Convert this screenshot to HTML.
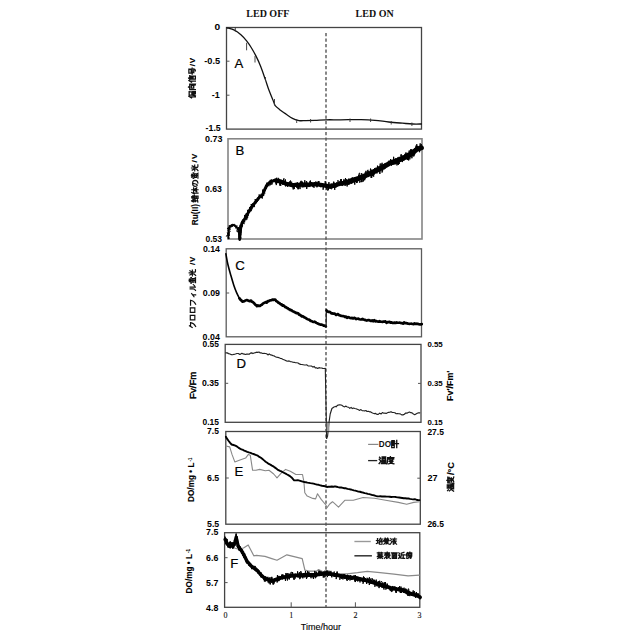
<!DOCTYPE html><html><head><meta charset="utf-8"><style>html,body{margin:0;padding:0;background:#fff;width:640px;height:640px;overflow:hidden}svg{display:block}</style></head><body><svg width="640" height="640" viewBox="0 0 640 640">
<rect width="640" height="640" fill="#fff"/>
<text x="246.3" y="16.9" font-family="Liberation Serif" font-size="10" font-weight="bold" text-anchor="start" fill="#111" >LED OFF</text>
<text x="355.6" y="16.9" font-family="Liberation Serif" font-size="10" font-weight="bold" text-anchor="start" fill="#111" >LED ON</text>
<rect x="226.5" y="27.5" width="195.00" height="101.60" fill="none" stroke="#444" stroke-width="1.3"/>
<rect x="228.0" y="138.8" width="194.00" height="100.20" fill="none" stroke="#858585" stroke-width="1.6"/>
<rect x="226.2" y="248.8" width="195.30" height="88.00" fill="none" stroke="#5c5c5c" stroke-width="1.3"/>
<rect x="225.2" y="344.4" width="195.80" height="77.90" fill="none" stroke="#444" stroke-width="1.3"/>
<rect x="225.8" y="431.5" width="194.50" height="92.70" fill="none" stroke="#444" stroke-width="1.3"/>
<rect x="224.6" y="532.7" width="195.20" height="74.60" fill="none" stroke="#444" stroke-width="1.3"/>
<text x="214.50" y="30.14" font-family="Liberation Sans" font-size="8.5" font-weight="bold" fill="#000" textLength="5.70" lengthAdjust="spacingAndGlyphs" stroke="#000" stroke-width="0.0">0</text>
<text x="204.30" y="64.04" font-family="Liberation Sans" font-size="8.5" font-weight="bold" fill="#000" textLength="15.90" lengthAdjust="spacingAndGlyphs" stroke="#000" stroke-width="0.0">-0.5</text>
<text x="211.70" y="97.94" font-family="Liberation Sans" font-size="8.5" font-weight="bold" fill="#000" textLength="8.00" lengthAdjust="spacingAndGlyphs" stroke="#000" stroke-width="0.0">-1</text>
<text x="205.60" y="131.44" font-family="Liberation Sans" font-size="8.5" font-weight="bold" fill="#000" textLength="15.10" lengthAdjust="spacingAndGlyphs" stroke="#000" stroke-width="0.0">-1.5</text>
<text x="205.10" y="141.94" font-family="Liberation Sans" font-size="8.5" font-weight="bold" fill="#000" textLength="17.40" lengthAdjust="spacingAndGlyphs" stroke="#000" stroke-width="0.0">0.73</text>
<text x="204.90" y="191.84" font-family="Liberation Sans" font-size="8.5" font-weight="bold" fill="#000" textLength="16.90" lengthAdjust="spacingAndGlyphs" stroke="#000" stroke-width="0.0">0.63</text>
<text x="205.40" y="242.04" font-family="Liberation Sans" font-size="8.5" font-weight="bold" fill="#000" textLength="16.60" lengthAdjust="spacingAndGlyphs" stroke="#000" stroke-width="0.0">0.53</text>
<text x="202.90" y="252.14" font-family="Liberation Sans" font-size="8.5" font-weight="bold" fill="#000" textLength="17.00" lengthAdjust="spacingAndGlyphs" stroke="#000" stroke-width="0.0">0.14</text>
<text x="202.80" y="295.64" font-family="Liberation Sans" font-size="8.5" font-weight="bold" fill="#000" textLength="17.20" lengthAdjust="spacingAndGlyphs" stroke="#000" stroke-width="0.0">0.09</text>
<text x="202.60" y="340.24" font-family="Liberation Sans" font-size="8.5" font-weight="bold" fill="#000" textLength="17.20" lengthAdjust="spacingAndGlyphs" stroke="#000" stroke-width="0.0">0.04</text>
<text x="202.60" y="346.94" font-family="Liberation Sans" font-size="8.5" font-weight="bold" fill="#000" textLength="16.30" lengthAdjust="spacingAndGlyphs" stroke="#000" stroke-width="0.0">0.55</text>
<text x="202.00" y="385.94" font-family="Liberation Sans" font-size="8.5" font-weight="bold" fill="#000" textLength="16.90" lengthAdjust="spacingAndGlyphs" stroke="#000" stroke-width="0.0">0.35</text>
<text x="202.50" y="425.34" font-family="Liberation Sans" font-size="8.5" font-weight="bold" fill="#000" textLength="16.40" lengthAdjust="spacingAndGlyphs" stroke="#000" stroke-width="0.0">0.15</text>
<text x="207.10" y="434.24" font-family="Liberation Sans" font-size="8.5" font-weight="bold" fill="#000" textLength="11.80" lengthAdjust="spacingAndGlyphs" stroke="#000" stroke-width="0.0">7.5</text>
<text x="207.00" y="481.04" font-family="Liberation Sans" font-size="8.5" font-weight="bold" fill="#000" textLength="12.20" lengthAdjust="spacingAndGlyphs" stroke="#000" stroke-width="0.0">6.5</text>
<text x="207.00" y="526.84" font-family="Liberation Sans" font-size="8.5" font-weight="bold" fill="#000" textLength="12.20" lengthAdjust="spacingAndGlyphs" stroke="#000" stroke-width="0.0">5.5</text>
<text x="206.10" y="534.84" font-family="Liberation Sans" font-size="8.5" font-weight="bold" fill="#000" textLength="12.20" lengthAdjust="spacingAndGlyphs" stroke="#000" stroke-width="0.0">7.5</text>
<text x="206.10" y="560.74" font-family="Liberation Sans" font-size="8.5" font-weight="bold" fill="#000" textLength="12.20" lengthAdjust="spacingAndGlyphs" stroke="#000" stroke-width="0.0">6.6</text>
<text x="206.10" y="585.64" font-family="Liberation Sans" font-size="8.5" font-weight="bold" fill="#000" textLength="12.20" lengthAdjust="spacingAndGlyphs" stroke="#000" stroke-width="0.0">5.7</text>
<text x="206.10" y="610.54" font-family="Liberation Sans" font-size="8.5" font-weight="bold" fill="#000" textLength="12.20" lengthAdjust="spacingAndGlyphs" stroke="#000" stroke-width="0.0">4.8</text>
<text x="427.40" y="346.59" font-family="Liberation Sans" font-size="7.8" font-weight="bold" fill="#000" textLength="15.30" lengthAdjust="spacingAndGlyphs" stroke="#000" stroke-width="0">0.55</text>
<text x="427.40" y="386.19" font-family="Liberation Sans" font-size="7.8" font-weight="bold" fill="#000" textLength="15.30" lengthAdjust="spacingAndGlyphs" stroke="#000" stroke-width="0">0.35</text>
<text x="427.40" y="424.99" font-family="Liberation Sans" font-size="7.8" font-weight="bold" fill="#000" textLength="15.30" lengthAdjust="spacingAndGlyphs" stroke="#000" stroke-width="0">0.15</text>
<text x="427.40" y="434.64" font-family="Liberation Sans" font-size="8.2" font-weight="bold" fill="#000" textLength="16.50" lengthAdjust="spacingAndGlyphs" stroke="#000" stroke-width="0.0">27.5</text>
<text x="427.40" y="481.04" font-family="Liberation Sans" font-size="8.2" font-weight="bold" fill="#000" textLength="10.10" lengthAdjust="spacingAndGlyphs" stroke="#000" stroke-width="0.0">27</text>
<text x="427.40" y="526.94" font-family="Liberation Sans" font-size="8.2" font-weight="bold" fill="#000" textLength="16.50" lengthAdjust="spacingAndGlyphs" stroke="#000" stroke-width="0.0">26.5</text>
<text x="225.5" y="617.5" font-family="Liberation Serif" font-size="8" font-weight="normal" text-anchor="middle" fill="#111" stroke="#111" stroke-width="0.12">0</text>
<text x="291.2" y="617.5" font-family="Liberation Serif" font-size="8" font-weight="normal" text-anchor="middle" fill="#111" stroke="#111" stroke-width="0.12">1</text>
<text x="355.4" y="617.5" font-family="Liberation Serif" font-size="8" font-weight="normal" text-anchor="middle" fill="#111" stroke="#111" stroke-width="0.12">2</text>
<text x="419.5" y="617.5" font-family="Liberation Serif" font-size="8" font-weight="normal" text-anchor="middle" fill="#111" stroke="#111" stroke-width="0.12">3</text>
<text x="320.9" y="630" font-family="Liberation Sans" font-size="9" font-weight="normal" text-anchor="middle" fill="#000" stroke="#000" stroke-width="0.12">Time/hour</text>
<line x1="226.5" y1="61.2" x2="229.5" y2="61.2" stroke="#555" stroke-width="1"/>
<line x1="226.5" y1="95.2" x2="229.5" y2="95.2" stroke="#555" stroke-width="1"/>
<line x1="226.2" y1="293" x2="229.2" y2="293" stroke="#555" stroke-width="1"/>
<line x1="225.2" y1="383.3" x2="228.2" y2="383.3" stroke="#555" stroke-width="1"/>
<line x1="225.8" y1="478" x2="228.8" y2="478" stroke="#555" stroke-width="1"/>
<line x1="224.6" y1="557.7" x2="227.6" y2="557.7" stroke="#555" stroke-width="1"/>
<line x1="224.6" y1="582.6" x2="227.6" y2="582.6" stroke="#555" stroke-width="1"/>
<line x1="421.0" y1="383.4" x2="418.0" y2="383.4" stroke="#555" stroke-width="1"/>
<line x1="420.3" y1="478.2" x2="417.3" y2="478.2" stroke="#555" stroke-width="1"/>
<line x1="291.2" y1="607.3" x2="291.2" y2="602.3" stroke="#555" stroke-width="1"/>
<line x1="355.4" y1="607.3" x2="355.4" y2="602.3" stroke="#555" stroke-width="1"/>
<text x="234.4" y="68.2" font-family="Liberation Sans" font-size="13.2" font-weight="normal" text-anchor="start" fill="#000" stroke="#000" stroke-width="0.2">A</text>
<text x="235.4" y="155.0" font-family="Liberation Sans" font-size="13.2" font-weight="normal" text-anchor="start" fill="#000" stroke="#000" stroke-width="0.2">B</text>
<text x="235.2" y="270.0" font-family="Liberation Sans" font-size="13.2" font-weight="normal" text-anchor="start" fill="#000" stroke="#000" stroke-width="0.2">C</text>
<text x="236.6" y="367.8" font-family="Liberation Sans" font-size="13.2" font-weight="normal" text-anchor="start" fill="#000" stroke="#000" stroke-width="0.2">D</text>
<text x="234.6" y="476.0" font-family="Liberation Sans" font-size="13.2" font-weight="normal" text-anchor="start" fill="#000" stroke="#000" stroke-width="0.2">E</text>
<text x="230.3" y="567.6" font-family="Liberation Sans" font-size="13.2" font-weight="normal" text-anchor="start" fill="#000" stroke="#000" stroke-width="0.2">F</text>
<line x1="326" y1="33" x2="326" y2="607" stroke="#555" stroke-width="1.4" stroke-dasharray="3.2,2.3"/>
<g transform="translate(188.40,98.70) rotate(-90)">
<path d="M3,0.8 L0.8,4.5 M2.2,3 V9.8 M4.2,1.2 H9.6 M4.6,2.4 V5 H9.2 V2.4 M4.6,5 Q4.6,8.5 3.8,9.8 M5.2,6.2 H9.5 V9.8 M6.6,6.2 V9.8 M8,6.2 V9.8 M5.2,8 H9.5" transform="translate(0.20,-0.10) scale(0.7200)" fill="none" stroke="#111" stroke-width="1.8" stroke-opacity="1.0" stroke-linecap="square"/>
<path d="M5,0.3 L4.2,1.8 M1.3,2 V9.8 M1.3,2 H8.8 V9.8 L7.8,9.5 M3.4,4.2 H6.8 V7.5 H3.4 Z" transform="translate(8.10,-0.10) scale(0.7200)" fill="none" stroke="#111" stroke-width="1.8" stroke-opacity="1.0" stroke-linecap="square"/>
<path d="M3,0.8 L0.8,4.5 M2.2,3 V9.8 M6.5,0.5 L7,1.5 M4.3,2 H9.7 M5,3.6 H9 M5,5.1 H9 M5,6.6 V9.8 H9 V6.6 Z" transform="translate(16.00,-0.10) scale(0.7200)" fill="none" stroke="#111" stroke-width="1.8" stroke-opacity="1.0" stroke-linecap="square"/>
<path d="M2.3,0.8 H7.7 V4 H2.3 Z M0.8,5.4 H9.2 M3.6,5.4 L3,7.6 H8.2 Q8.2,9.8 5.5,9.8" transform="translate(23.90,-0.10) scale(0.7200)" fill="none" stroke="#111" stroke-width="1.8" stroke-opacity="1.0" stroke-linecap="square"/>
<text x="32.50" y="6.60" font-family="Liberation Sans" font-size="8" font-weight="bold" fill="#000" stroke="#000" stroke-width="0.1" textLength="8.40" lengthAdjust="spacing">/V</text>
</g>
<g transform="translate(191.20,225.30) rotate(-90)">
<text x="0.00" y="6.90" font-family="Liberation Sans" font-size="8.6" font-weight="bold" fill="#000" stroke="#000" stroke-width="0.1" textLength="21.30" lengthAdjust="spacingAndGlyphs">Ru(II)</text>
<path d="M2,0.5 L0.4,3 M2,0.5 L3.8,3 M0.8,4 H3.4 M2.1,3 V9.2 M0.8,6 H3.4 M0.4,9.5 L3.8,8.8 M4.8,2.5 H9.6 M6.2,0.8 V4.5 M8.2,0.8 V4.5 M4.6,4.5 H9.8 M5.4,5.8 H9 V9.8 H5.4 Z M5.4,7.8 H9" transform="translate(23.00,0.00) scale(0.7000)" fill="none" stroke="#111" stroke-width="1.7" stroke-opacity="1.0" stroke-linecap="square"/>
<path d="M3,0.8 L0.8,4.5 M2.2,3 V9.8 M4,3.4 H9.8 M6.9,0.8 V9.8 M6.9,3.6 L4,8 M6.9,3.6 L9.8,8 M5.3,7.6 H8.5" transform="translate(30.70,0.00) scale(0.7000)" fill="none" stroke="#111" stroke-width="1.7" stroke-opacity="1.0" stroke-linecap="square"/>
<path d="M5,2.2 Q4.2,8.6 2.4,8.6 Q0.8,8.6 0.8,5.6 Q1,2 5,2 Q9.2,2 9.2,5.6 Q9,9 5.6,9.6" transform="translate(38.40,0.00) scale(0.7000)" fill="none" stroke="#111" stroke-width="1.7" stroke-opacity="1.0" stroke-linecap="square"/>
<path d="M3,0.6 L4,2.2 M5,0.3 V2 M7,0.6 L6,2.2 M1,3.6 V2.8 H9 V3.6 M2.5,4.8 H7.5 V7.4 H2.5 Z M5,4 V9.6 M1.5,9.6 H8.6 L8,8.6" transform="translate(46.10,0.00) scale(0.7000)" fill="none" stroke="#111" stroke-width="1.7" stroke-opacity="1.0" stroke-linecap="square"/>
<path d="M5,0.4 V5 M2,1.4 L3,3.4 M8,1.4 L7,3.4 M0.8,5 H9.2 M4,5 Q4,8.5 1.2,9.8 M6,5 V9 Q6,9.8 9.6,9.5" transform="translate(53.80,0.00) scale(0.7000)" fill="none" stroke="#111" stroke-width="1.7" stroke-opacity="1.0" stroke-linecap="square"/>
<text x="62.90" y="6.05" font-family="Liberation Sans" font-size="8" font-weight="bold" fill="#000" stroke="#000" stroke-width="0.1" textLength="8.65" lengthAdjust="spacing">/V</text>
</g>
<g transform="translate(188.90,328.50) rotate(-90)">
<path d="M4,0.8 L1.4,4.8 M3.4,2.4 H8.6 Q8,7.2 2.8,9.8" transform="translate(0.00,0.00) scale(0.6900)" fill="none" stroke="#111" stroke-width="1.7" stroke-opacity="1.0" stroke-linecap="square"/>
<path d="M1.8,2 H8.2 V8.6 H1.8 Z" transform="translate(7.45,0.00) scale(0.6900)" fill="none" stroke="#111" stroke-width="1.7" stroke-opacity="1.0" stroke-linecap="square"/>
<path d="M1.8,2 H8.2 V8.6 H1.8 Z" transform="translate(14.90,0.00) scale(0.6900)" fill="none" stroke="#111" stroke-width="1.7" stroke-opacity="1.0" stroke-linecap="square"/>
<path d="M1.4,2.4 H8.6 Q8,7.2 2.8,9.8" transform="translate(22.35,0.00) scale(0.6900)" fill="none" stroke="#111" stroke-width="1.7" stroke-opacity="1.0" stroke-linecap="square"/>
<path d="M7.4,4 L2.8,7.4 M5.6,5.6 V9.8" transform="translate(29.80,0.00) scale(0.6900)" fill="none" stroke="#111" stroke-width="1.7" stroke-opacity="1.0" stroke-linecap="square"/>
<path d="M3.4,1.8 V6 Q3.4,8.6 1.2,9.6 M6,1.8 V9.2 Q8,8.6 9.6,6.4" transform="translate(37.25,0.00) scale(0.6900)" fill="none" stroke="#111" stroke-width="1.7" stroke-opacity="1.0" stroke-linecap="square"/>
<path d="M3,0.6 L4,2.2 M5,0.3 V2 M7,0.6 L6,2.2 M1,3.6 V2.8 H9 V3.6 M2.5,4.8 H7.5 V7.4 H2.5 Z M5,4 V9.6 M1.5,9.6 H8.6 L8,8.6" transform="translate(44.70,0.00) scale(0.6900)" fill="none" stroke="#111" stroke-width="1.7" stroke-opacity="1.0" stroke-linecap="square"/>
<path d="M5,0.4 V5 M2,1.4 L3,3.4 M8,1.4 L7,3.4 M0.8,5 H9.2 M4,5 Q4,8.5 1.2,9.8 M6,5 V9 Q6,9.8 9.6,9.5" transform="translate(52.15,0.00) scale(0.6900)" fill="none" stroke="#111" stroke-width="1.7" stroke-opacity="1.0" stroke-linecap="square"/>
<text x="63.60" y="6.10" font-family="Liberation Sans" font-size="8" font-weight="bold" fill="#000" stroke="#000" stroke-width="0.1" textLength="8.20" lengthAdjust="spacing">/V</text>
</g>
<g transform="translate(188.60,399.00) rotate(-90)">
<text x="0.00" y="7.40" font-family="Liberation Sans" font-size="9.8" font-weight="normal" fill="#000" stroke="#000" stroke-width="0.45" textLength="27.30" lengthAdjust="spacingAndGlyphs">Fv/Fm</text>
</g>
<g transform="translate(187.70,502.00) rotate(-90)">
<text x="0.00" y="6.60" font-family="Liberation Sans" font-size="8.6" font-weight="bold" fill="#000" stroke="#000" stroke-width="0.1" textLength="39.50" lengthAdjust="spacingAndGlyphs">DO/mg • L</text>
<text x="40.50" y="3.90" font-family="Liberation Sans" font-size="5.2" font-weight="bold" fill="#000" stroke="#000" stroke-width="0.1" textLength="3.80" lengthAdjust="spacingAndGlyphs">-1</text>
</g>
<g transform="translate(186.10,593.40) rotate(-90)">
<text x="0.00" y="6.10" font-family="Liberation Sans" font-size="8.4" font-weight="bold" fill="#000" stroke="#000" stroke-width="0.1" textLength="39.40" lengthAdjust="spacingAndGlyphs">DO/mg • L</text>
<text x="40.40" y="3.60" font-family="Liberation Sans" font-size="5.2" font-weight="bold" fill="#000" stroke="#000" stroke-width="0.1" textLength="4.10" lengthAdjust="spacingAndGlyphs">-1</text>
</g>
<g transform="translate(446.25,401.00) rotate(-90)">
<text x="0.00" y="6.65" font-family="Liberation Sans" font-size="9.2" font-weight="bold" fill="#000" stroke="#000" stroke-width="0.1" textLength="30.50" lengthAdjust="spacingAndGlyphs">Fv'/Fm'</text>
</g>
<g transform="translate(446.60,491.40) rotate(-90)">
<path d="M1,1.2 L2.2,2.4 M0.6,3.8 L1.8,5 M0.4,9.6 L2.6,6.4 M4.4,0.8 H9 V4.6 H4.4 Z M4.4,2.7 H9 M4,6 H9.4 V9.4 M4,6 V9.4 M5.8,6 V9.4 M7.6,6 V9.4 M3.4,9.6 H9.8" transform="translate(0.00,0.10) scale(0.7200)" fill="none" stroke="#111" stroke-width="1.75" stroke-opacity="1.0" stroke-linecap="square"/>
<path d="M5,0.2 V1.4 M1.4,1.5 H9.6 M1.4,1.5 Q1.4,8 0.4,9.8 M2.8,3.4 H9.2 M4.4,2.2 V5.6 M7.6,2.2 V5.6 M4.4,5.6 H7.6 M3.4,6.6 H8.2 Q6.2,9.4 2.8,9.8 M4.4,7.2 Q7,9.4 9.6,9.8" transform="translate(7.45,0.10) scale(0.7200)" fill="none" stroke="#111" stroke-width="1.75" stroke-opacity="1.0" stroke-linecap="square"/>
<text x="16.40" y="6.90" font-family="Liberation Sans" font-size="8.6" font-weight="bold" fill="#000" stroke="#000" stroke-width="0.1" textLength="13.00" lengthAdjust="spacingAndGlyphs">/°C</text>
</g>
<path d="M1.4,0.8 H4.4 M0.4,2.4 H5 M1.2,3.9 H4.4 M1.2,5.4 H4.4 M1.2,6.9 V9.8 H4.4 V6.9 Z M5.4,4.6 H9.8 M7.6,0.4 V9.8" transform="translate(390.80,440.00) scale(0.7800)" fill="none" stroke="#111" stroke-width="1.7" stroke-opacity="1.0" stroke-linecap="square"/>
<path d="M1,1.2 L2.2,2.4 M0.6,3.8 L1.8,5 M0.4,9.6 L2.6,6.4 M4.4,0.8 H9 V4.6 H4.4 Z M4.4,2.7 H9 M4,6 H9.4 V9.4 M4,6 V9.4 M5.8,6 V9.4 M7.6,6 V9.4 M3.4,9.6 H9.8" transform="translate(378.80,456.40) scale(0.7600)" fill="none" stroke="#111" stroke-width="1.75" stroke-opacity="1.0" stroke-linecap="square"/>
<path d="M5,0.2 V1.4 M1.4,1.5 H9.6 M1.4,1.5 Q1.4,8 0.4,9.8 M2.8,3.4 H9.2 M4.4,2.2 V5.6 M7.6,2.2 V5.6 M4.4,5.6 H7.6 M3.4,6.6 H8.2 Q6.2,9.4 2.8,9.8 M4.4,7.2 Q7,9.4 9.6,9.8" transform="translate(386.60,456.40) scale(0.7600)" fill="none" stroke="#111" stroke-width="1.75" stroke-opacity="1.0" stroke-linecap="square"/>
<path d="M2,1.2 V8 M0.4,4 H3.6 M0.4,8.8 L4,7.6 M6.8,0.3 V1.5 M4.4,1.8 H9.6 M5.4,2.8 L6,4.4 M8.6,2.8 L8,4.4 M4.2,5 H9.8 M5,6.4 H9 V9.8 H5 Z" transform="translate(376.10,537.80) scale(0.6600)" fill="none" stroke="#111" stroke-width="1.7" stroke-opacity="1.0" stroke-linecap="square"/>
<path d="M3,0.3 L4,1.4 M7,0.3 L6,1.4 M1.4,1.8 H8.6 M2,3 H8 M0.8,4.2 H9.2 M5,1.8 V4.2 M3,4.2 L1,5.6 M3,5.6 H7.4 V7.6 H3 Z M3,6.6 H7.4 M3,7.6 L1,9.8 M6,8.4 L9.6,9.8 M5,7.6 L4.5,9.5" transform="translate(383.10,537.80) scale(0.6600)" fill="none" stroke="#111" stroke-width="1.7" stroke-opacity="1.0" stroke-linecap="square"/>
<path d="M1,1.2 L2.2,2.4 M0.6,3.8 L1.8,5 M0.4,9.6 L2.6,6.4 M7,0.3 V1.5 M3.8,1.8 H9.8 M5.6,1.8 L3.8,6 M4.8,4 V9.8 M7.2,3 L6.2,5 H9.2 Q8.2,8.6 5.6,9.8 M6.6,6.6 L9.8,9.8" transform="translate(390.10,537.80) scale(0.6600)" fill="none" stroke="#111" stroke-width="1.7" stroke-opacity="1.0" stroke-linecap="square"/>
<path d="M0.8,1.5 H9.2 M3.2,0.4 V3 M6.8,0.4 V3 M2,3.6 V6 H8 V3.6 M4,3.6 V6 M6,3.6 V6 M0.8,6.9 H9.2 M5,6 V9.8 M5,7.2 L1.4,9.8 M5,7.2 L8.6,9.8" transform="translate(376.80,552.00) scale(0.6600)" fill="none" stroke="#111" stroke-width="1.9" stroke-opacity="1.0" stroke-linecap="square"/>
<path d="M1.4,1.4 H8.6 M5,0.2 V5.6 M2,3 H8 M0.8,4.6 H9.2 M4,5.6 Q3,8 0.8,9.6 M4,6.6 V9.6 L6,9 M5.6,5.6 Q7,8.6 9.6,9.8 M8.6,6 L6.6,7.6" transform="translate(383.94,552.00) scale(0.6600)" fill="none" stroke="#111" stroke-width="1.9" stroke-opacity="1.0" stroke-linecap="square"/>
<path d="M0.8,1.2 H9.2 M4.6,1.2 L4,3 M1.8,3 H8.2 V9.8 H1.8 Z M3.8,3 V9.8 M6.2,3 V9.8 M3.8,5.2 H6.2 M3.8,7.4 H6.2" transform="translate(391.08,552.00) scale(0.6600)" fill="none" stroke="#111" stroke-width="1.9" stroke-opacity="1.0" stroke-linecap="square"/>
<path d="M1,1.4 L2,2.6 M0.4,4.6 H2 V8 L0.4,9.6 M1.6,8.6 Q4,9.8 9.8,9.6 M8.6,0.6 L4.6,1.8 V4.6 Q4.6,6.6 3.6,7.6 M4.6,4.2 H9.6 M7.6,4.2 V8.4" transform="translate(398.22,552.00) scale(0.6600)" fill="none" stroke="#111" stroke-width="1.9" stroke-opacity="1.0" stroke-linecap="square"/>
<path d="M3,0.8 L0.8,4.5 M2.2,3 V9.8 M6.8,0.2 V1.3 M4,1.5 H9.6 M5,1.5 L5.5,3 M8.6,1.5 L8,3 M4,3.3 H9.8 M5,4.5 V5.5 H9 V4.5 M4,6 H9.8 M6.8,6 L6,7.6 H9 Q9,9.8 7.5,9.8 M5.5,7.6 L4,9.8" transform="translate(405.36,552.00) scale(0.6600)" fill="none" stroke="#111" stroke-width="1.9" stroke-opacity="1.0" stroke-linecap="square"/>
<path d="M226.90,27.80 C228.15,28.20 232.07,29.03 234.40,30.20 C236.73,31.37 238.87,33.02 240.90,34.80 C242.93,36.58 244.88,38.78 246.60,40.90 C248.32,43.02 249.65,45.00 251.20,47.50 C252.75,50.00 254.33,52.78 255.90,55.90 C257.47,59.02 259.03,62.28 260.60,66.20 C262.17,70.12 263.88,75.33 265.30,79.40 C266.72,83.47 267.70,86.85 269.10,90.60 C270.50,94.35 272.68,99.40 273.70,101.90 C274.72,104.40 274.25,104.35 275.20,105.60 C276.15,106.85 277.62,108.00 279.40,109.40 C281.18,110.80 283.72,112.52 285.90,114.00 C288.08,115.48 290.32,117.20 292.50,118.30 C294.68,119.40 296.82,120.22 299.00,120.60 C301.18,120.98 302.93,120.63 305.60,120.60 C308.27,120.57 311.60,120.53 315.00,120.40 C318.40,120.27 321.73,119.90 326.00,119.80 C330.27,119.70 334.73,119.83 340.60,119.80 C346.47,119.77 355.47,119.52 361.20,119.60 C366.93,119.68 370.40,119.90 375.00,120.30 C379.60,120.70 384.22,121.52 388.80,122.00 C393.38,122.48 398.50,122.87 402.50,123.20 C406.50,123.53 409.65,123.87 412.80,124.00 C415.95,124.13 419.97,124.00 421.40,124.00" fill="none" stroke="#111" stroke-width="1.3" stroke-linejoin="round" stroke-linecap="round" />
<line x1="235.3" y1="27.3" x2="235.3" y2="31.6" stroke="#333" stroke-width="0.9"/>
<line x1="246.6" y1="42.8" x2="246.6" y2="50.3" stroke="#333" stroke-width="0.9"/>
<line x1="255" y1="56" x2="255" y2="62.5" stroke="#333" stroke-width="0.9"/>
<line x1="265.5" y1="77" x2="265.5" y2="81" stroke="#333" stroke-width="0.9"/>
<line x1="274.5" y1="99" x2="274.5" y2="105" stroke="#333" stroke-width="0.9"/>
<line x1="296.7" y1="119" x2="296.7" y2="123" stroke="#333" stroke-width="0.9"/>
<line x1="310.6" y1="119" x2="310.6" y2="122.5" stroke="#333" stroke-width="0.9"/>
<line x1="350" y1="118.5" x2="350" y2="122" stroke="#333" stroke-width="0.9"/>
<line x1="370.6" y1="118.5" x2="370.6" y2="122" stroke="#333" stroke-width="0.9"/>
<line x1="391.2" y1="121" x2="391.2" y2="124.5" stroke="#333" stroke-width="0.9"/>
<line x1="411.9" y1="122.5" x2="411.9" y2="126" stroke="#333" stroke-width="0.9"/>
<polyline points="228.40,238.50 228.42,238.00 228.44,237.50 228.46,237.00 228.48,236.50 228.50,236.00 228.52,235.50 228.54,235.00 228.56,234.50 228.58,234.00 228.60,233.50 228.62,233.00 228.64,232.50 228.66,232.00 228.68,231.50 228.70,231.00 228.80,230.50 228.90,230.00 229.00,229.50 229.10,229.00 229.20,228.50 229.30,228.00 229.40,227.50 229.50,227.00 229.90,226.64 230.30,226.28 230.70,225.92 231.10,225.56 231.50,225.20 232.03,225.15 232.55,225.10 233.07,225.05 233.60,225.00 234.08,225.26 234.56,225.52 235.04,225.78 235.52,226.04 236.00,226.30 236.32,226.75 236.63,227.20 236.95,227.65 237.27,228.10 237.58,228.55 237.90,229.00 238.03,229.50 238.16,230.00 238.29,230.50 238.42,231.00 238.55,231.50 238.68,232.00 238.81,232.50 238.94,233.00 239.07,233.50 239.20,234.00 239.26,234.53 239.31,235.07 239.37,235.60 239.42,236.13 239.48,236.67 239.53,237.20 239.59,237.73 239.64,238.27 239.70,238.80" fill="none" stroke="#000" stroke-width="1.6" stroke-linejoin="round" stroke-linecap="round" />
<polyline points="228.86,238.24 228.14,237.77 228.25,236.57 228.84,238.11 228.70,237.54 228.67,236.39 229.29,233.83 228.99,235.51 226.99,232.81 228.16,233.11 228.56,233.81 228.04,233.52 228.99,232.81 230.21,231.34 229.76,232.06 228.03,230.38 228.70,230.16 229.12,230.63 228.14,229.05 230.20,228.48 229.42,227.69 227.96,228.43 230.58,227.55 229.21,225.00 229.16,226.53 230.24,226.78 231.45,224.46 231.95,226.23 231.83,226.64 230.86,225.27 232.00,225.72 231.94,224.60 233.12,224.03 232.25,226.55 234.78,224.06 235.56,227.22 233.25,224.14 235.34,226.66 237.20,225.63 236.77,228.30 237.34,227.90 237.82,229.69 238.08,229.07 239.05,227.43 238.51,230.46 237.59,228.03 236.66,231.34 239.34,230.82 240.00,230.19 238.54,232.55 239.39,232.82 239.97,233.12 238.70,232.84 239.22,235.04 240.11,233.65 238.91,236.53 239.25,234.22 239.15,235.98 238.55,238.07 238.39,238.46 240.16,236.95 240.42,239.40 239.83,239.15" fill="none" stroke="#000" stroke-width="0.8" stroke-linejoin="round" stroke-linecap="round" />
<polyline points="228.92,238.65 228.67,237.82 228.44,238.07 228.97,237.76 228.77,238.50 228.16,235.57 229.35,235.49 228.89,234.66 226.25,236.34 228.80,232.88 228.81,233.90 229.21,232.57 228.17,232.78 228.98,234.00 228.59,230.95 228.64,230.77 228.36,228.50 227.85,231.01 229.86,229.43 230.44,229.86 228.88,226.80 229.86,227.66 226.99,228.59 228.20,228.09 228.56,227.32 231.38,226.46 230.87,225.77 231.23,226.36 232.88,225.11 231.76,226.20 231.52,227.10 232.84,225.96 234.23,225.13 234.65,225.48 233.20,223.99 234.17,226.39 234.20,225.01 236.67,227.57 235.47,228.22 235.61,227.20 238.38,228.42 238.67,227.21 237.42,229.54 239.17,227.03 237.49,229.40 238.53,230.40 237.37,232.00 239.76,232.14 238.39,232.95 239.60,231.26 238.92,232.62 238.70,234.42 238.72,231.50 239.94,232.15 238.71,234.85 240.06,235.06 240.56,235.68 240.36,236.07 240.93,238.16 240.33,236.53 238.61,235.86 240.61,236.30 239.69,237.57" fill="none" stroke="#000" stroke-width="0.8" stroke-linejoin="round" stroke-linecap="round" />
<polyline points="239.70,238.80 239.74,238.28 239.78,237.77 239.83,237.25 239.87,236.74 239.91,236.22 239.95,235.71 239.99,235.19 240.04,234.67 240.08,234.16 240.12,233.64 240.16,233.13 240.21,232.61 240.25,232.09 240.29,231.58 240.33,231.06 240.37,230.55 240.42,230.03 240.46,229.52 240.50,229.00 240.62,228.51 240.73,228.02 240.85,227.53 240.97,227.03 241.08,226.54 241.20,226.05 241.32,225.56 241.43,225.07 241.55,224.57 241.67,224.08 241.78,223.59 241.90,223.10 242.18,222.67 242.47,222.24 242.75,221.81 243.04,221.38 243.32,220.95 243.61,220.52 243.89,220.08 244.18,219.65 244.46,219.22 244.75,218.79 245.03,218.36 245.32,217.93 245.60,217.50 245.85,217.05 246.09,216.61 246.34,216.16 246.59,215.71 246.84,215.26 247.08,214.82 247.33,214.37 247.58,213.92 247.83,213.47 248.07,213.03 248.32,212.58 248.57,212.13 248.82,211.68 249.06,211.24 249.31,210.79 249.56,210.34 249.81,209.89 250.05,209.45 250.30,209.00 250.59,208.59 250.89,208.19 251.18,207.78 251.48,207.38 251.77,206.97 252.06,206.56 252.36,206.16 252.65,205.75 252.94,205.34 253.24,204.94 253.53,204.53 253.82,204.12 254.12,203.72 254.41,203.31 254.71,202.91 255.00,202.50 255.34,202.10 255.67,201.70 256.01,201.30 256.34,200.90 256.68,200.50 257.01,200.10 257.35,199.70 257.69,199.30 258.02,198.90 258.36,198.50 258.69,198.10 259.03,197.70 259.36,197.30 259.70,196.90 260.17,196.58 260.63,196.27 261.10,195.95 261.57,195.63 262.03,195.32 262.50,195.00 262.69,194.53 262.88,194.06 263.07,193.59 263.26,193.12 263.45,192.65 263.64,192.18 263.83,191.71 264.02,191.24 264.21,190.77 264.40,190.30 264.63,189.83 264.87,189.37 265.10,188.90 265.33,188.43 265.57,187.97 265.80,187.50 266.03,187.03 266.27,186.57 266.50,186.10 266.73,185.63 266.97,185.17 267.20,184.70 267.61,184.33 268.02,183.97 268.43,183.60 268.84,183.23 269.26,182.87 269.67,182.50 270.08,182.13 270.49,181.77 270.90,181.40 271.42,181.30 271.94,181.20 272.47,181.10 272.99,181.00 273.51,180.90 274.03,180.80 274.56,180.70 275.08,180.60 275.60,180.50" fill="none" stroke="#000" stroke-width="2.9" stroke-linejoin="round" stroke-linecap="round" />
<polyline points="239.69,238.45 239.86,237.22 239.81,240.99 240.33,238.21 239.24,236.38 240.45,235.22 239.65,232.74 240.39,237.00 240.44,234.69 239.49,234.46 239.80,230.83 239.88,234.79 239.82,230.99 240.19,229.34 240.47,229.46 240.50,227.46 239.40,229.39 240.28,231.34 240.02,225.92 240.27,229.52 240.99,229.91 240.90,229.22 241.18,229.93 239.92,227.85 241.74,228.16 240.97,225.52 240.44,229.05 242.65,225.91 241.89,222.91 241.61,227.48 242.23,224.60 241.86,221.47 242.60,223.20 242.37,222.18 242.57,219.98 243.09,222.98 242.90,219.41 244.18,224.12 242.60,221.23 244.42,220.77 244.68,222.25 245.01,218.67 245.55,214.86 244.96,218.52 246.50,219.89 245.51,214.53 246.19,217.13 245.85,215.44 247.11,219.31 246.16,213.11 247.58,217.88 247.74,217.65 247.71,212.35 247.45,209.87 248.34,212.92 248.26,211.27 248.76,212.96 248.92,212.83 249.46,210.65 248.90,210.88 249.56,209.22 249.88,209.70 250.14,209.45 249.67,208.76 251.12,209.35 250.79,208.97 250.70,208.58 251.50,203.96 252.14,205.29 250.75,204.61 253.15,204.29 251.97,205.06 253.20,203.97 253.33,205.83 253.88,207.20 254.12,204.09 254.60,206.70 253.87,205.16 255.07,202.64 255.53,201.97 255.79,203.17 256.94,201.32 255.90,203.53 257.64,201.06 257.12,199.88 257.02,201.86 257.44,197.60 258.25,199.95 258.03,200.31 258.63,200.04 258.72,198.47 259.37,197.26 259.05,195.40 258.97,196.91 259.16,195.80 260.92,195.04 261.07,196.97 260.86,195.22 262.29,198.61 262.06,196.97 261.78,194.20 263.35,195.46 263.04,190.17 262.38,194.25 262.92,189.36 262.94,191.05 263.95,191.77 264.37,192.38 264.79,193.47 264.15,187.94 264.10,187.93 264.87,189.22 264.31,189.78 265.32,186.21 265.41,187.61 265.42,187.39 266.21,188.30 265.93,186.41 265.14,185.79 266.75,183.87 267.07,182.46 266.51,184.97 267.45,183.88 268.33,184.79 268.01,183.53 268.81,182.97 269.40,184.19 268.99,181.20 269.71,181.46 270.43,179.77 270.95,180.52 271.22,182.24 271.78,184.80 272.53,183.08 271.80,183.01 273.63,179.55 275.20,181.88 275.20,181.28 275.55,181.98 275.52,181.42" fill="none" stroke="#000" stroke-width="0.9" stroke-linejoin="round" stroke-linecap="round" />
<polyline points="239.16,239.72 239.23,240.41 240.84,238.22 239.84,236.85 239.88,238.83 240.04,234.77 240.31,236.75 240.87,233.80 240.05,237.67 239.86,234.64 239.77,236.19 239.92,234.34 240.56,231.36 240.24,234.50 240.70,230.36 240.49,230.97 240.94,233.29 241.56,229.10 240.85,229.52 240.48,227.83 241.51,225.36 240.13,230.48 240.04,224.82 240.74,229.15 240.93,226.43 240.66,225.83 240.60,225.60 241.59,224.94 241.43,225.42 241.75,222.46 242.57,222.72 241.84,224.48 241.83,221.82 242.29,220.55 243.01,222.34 244.09,222.40 243.33,219.68 242.67,224.12 243.98,219.15 244.38,219.93 244.64,218.79 245.13,218.89 244.59,214.95 244.80,217.93 245.91,215.62 246.16,215.88 246.25,217.95 246.29,217.07 246.57,213.17 246.57,216.08 247.46,214.64 247.65,212.79 247.30,217.27 247.75,213.74 248.23,215.80 247.98,214.19 248.56,212.10 249.54,208.49 248.19,212.86 249.24,212.13 249.74,211.15 249.70,207.20 249.77,212.13 249.62,207.16 250.76,206.40 251.10,211.23 252.30,208.22 251.14,206.44 252.04,207.92 251.48,204.74 252.48,206.68 252.55,203.40 253.17,204.37 253.19,204.73 254.06,203.89 253.64,206.63 253.74,205.24 254.79,203.44 254.51,205.63 255.10,202.37 255.34,199.40 255.86,200.48 255.02,199.27 256.47,200.97 257.12,199.51 256.71,199.61 256.57,200.56 257.68,198.08 257.94,200.43 258.03,199.06 259.52,198.64 260.21,196.46 259.37,196.14 260.21,197.21 259.12,194.36 261.03,197.36 262.42,197.07 261.69,196.00 262.22,196.99 261.88,197.99 260.97,193.85 262.69,195.52 264.15,195.25 263.13,193.11 263.03,191.75 263.96,191.05 263.86,191.78 264.48,190.93 264.14,191.66 264.32,191.50 265.36,187.76 264.39,190.20 265.27,190.84 266.14,185.62 266.01,188.57 265.73,187.86 266.52,184.25 266.12,186.62 266.54,186.73 266.55,186.85 265.90,185.10 267.54,183.94 267.43,186.74 268.81,183.75 268.80,183.01 268.86,186.25 268.90,185.08 269.63,182.87 270.64,182.34 270.16,185.37 271.15,180.36 271.67,179.40 271.81,182.23 271.69,182.06 272.22,182.37 273.23,179.65 274.46,180.08 274.36,180.85 275.87,181.58 275.78,180.51" fill="none" stroke="#000" stroke-width="0.9" stroke-linejoin="round" stroke-linecap="round" />
<polyline points="275.60,180.50 276.12,180.60 276.64,180.70 277.17,180.80 277.69,180.90 278.21,181.00 278.73,181.10 279.26,181.20 279.78,181.30 280.30,181.40 280.77,181.59 281.23,181.78 281.70,181.97 282.17,182.17 282.63,182.36 283.10,182.55 283.57,182.74 284.03,182.93 284.50,183.12 284.97,183.32 285.43,183.51 285.90,183.70 286.41,183.82 286.92,183.93 287.42,184.05 287.93,184.16 288.44,184.28 288.95,184.39 289.45,184.51 289.96,184.62 290.47,184.74 290.98,184.85 291.48,184.97 291.99,185.08 292.50,185.20 293.00,185.17 293.50,185.13 294.00,185.10 294.50,185.07 295.00,185.03 295.50,185.00 296.00,184.97 296.50,184.93 297.00,184.90 297.50,184.87 298.00,184.83 298.50,184.80 299.00,184.77 299.50,184.73 300.00,184.70 300.54,184.69 301.07,184.68 301.61,184.67 302.15,184.66 302.68,184.65 303.22,184.65 303.75,184.64 304.29,184.63 304.83,184.62 305.36,184.61 305.90,184.60 306.40,184.59 306.90,184.57 307.40,184.56 307.90,184.55 308.40,184.53 308.90,184.52 309.40,184.50 309.90,184.49 310.40,184.48 310.90,184.46 311.40,184.45 311.90,184.44 312.40,184.42 312.90,184.41 313.40,184.40 313.90,184.38 314.40,184.37 314.90,184.35 315.40,184.34 315.90,184.33 316.40,184.31 316.90,184.30 317.42,184.38 317.93,184.46 318.45,184.53 318.97,184.61 319.48,184.69 320.00,184.77 320.52,184.84 321.03,184.92 321.55,185.00 322.07,185.08 322.58,185.16 323.10,185.23 323.62,185.31 324.13,185.39 324.65,185.47 325.17,185.54 325.68,185.62 326.20,185.70 326.74,185.86 327.29,186.01 327.83,186.17 328.37,186.33 328.91,186.49 329.46,186.64 330.00,186.80 330.49,186.65 330.98,186.50 331.47,186.35 331.96,186.20 332.44,186.05 332.93,185.90 333.42,185.75 333.91,185.60 334.40,185.45 334.89,185.30 335.38,185.15 335.87,185.00 336.36,184.85 336.84,184.70 337.33,184.55 337.82,184.40 338.31,184.25 338.80,184.10 339.30,183.97 339.79,183.85 340.29,183.72 340.78,183.59 341.28,183.46 341.77,183.34 342.27,183.21 342.76,183.08 343.26,182.95 343.75,182.83 344.25,182.70 344.75,182.57 345.24,182.45 345.74,182.32 346.23,182.19 346.73,182.06 347.22,181.94 347.72,181.81 348.21,181.68 348.71,181.55 349.20,181.43 349.70,181.30" fill="none" stroke="#000" stroke-width="4.2" stroke-linejoin="round" stroke-linecap="round" />
<polyline points="275.65,183.23 276.62,177.78 276.25,185.10 277.25,180.71 277.82,183.02 278.00,180.40 278.94,181.33 279.05,178.80 279.39,181.25 280.21,180.83 280.63,182.58 281.15,179.84 281.57,181.87 282.32,182.19 282.97,184.97 283.02,180.83 283.95,178.34 284.03,181.34 284.23,184.27 284.96,184.34 285.49,179.49 285.53,186.33 286.45,185.59 287.00,184.98 287.38,186.91 287.85,186.08 288.28,185.88 289.29,184.15 289.42,185.49 289.80,182.10 290.66,185.16 291.08,185.79 291.76,184.88 291.88,184.22 292.51,187.15 292.88,184.55 293.62,184.57 293.76,185.88 294.54,186.00 295.15,182.83 295.43,184.38 296.26,186.72 296.59,183.42 297.46,182.97 297.74,183.78 298.16,183.41 297.99,189.20 299.10,183.81 299.37,184.53 300.02,189.10 300.71,181.07 301.30,180.89 301.64,183.40 302.17,187.44 302.34,181.59 303.37,187.25 303.93,182.84 304.42,185.72 304.77,180.22 305.51,186.59 305.41,186.54 306.50,184.96 306.71,188.97 307.41,183.83 307.81,186.49 308.24,187.06 308.79,185.11 309.26,184.85 310.12,180.98 310.29,185.14 311.10,184.91 311.38,182.30 312.01,185.62 311.98,183.69 312.97,187.14 313.34,184.42 313.81,184.96 314.25,182.11 314.78,183.04 315.53,181.79 316.03,181.45 316.47,182.08 316.94,187.32 317.43,182.77 317.59,184.78 318.48,183.20 318.98,183.58 319.64,186.30 320.12,186.76 320.51,184.21 320.97,184.33 321.21,184.60 322.06,184.34 322.58,183.01 323.07,186.37 323.10,189.71 323.77,184.93 325.18,187.62 325.19,181.14 325.62,186.76 325.75,186.91 326.82,187.73 327.17,186.06 327.73,187.58 328.27,186.82 328.91,182.09 329.61,187.09 329.99,184.87 330.52,188.01 331.38,189.23 331.08,184.35 332.26,188.08 332.61,188.08 332.79,184.54 333.24,187.70 333.71,181.61 334.78,189.85 334.74,183.79 335.23,185.66 335.85,187.88 336.62,182.46 336.89,183.42 337.27,184.52 337.68,185.11 337.87,180.19 338.65,181.31 339.31,183.92 339.81,185.07 340.14,181.97 340.75,179.19 341.38,184.53 341.74,183.07 342.27,185.27 342.88,184.71 343.52,183.42 343.68,181.57 344.09,180.92 345.10,186.00 345.35,182.50 345.90,184.90 345.98,184.84 346.82,180.66 347.24,185.09 347.65,179.92 348.04,180.23 348.58,184.86 349.64,181.47 349.77,183.91" fill="none" stroke="#000" stroke-width="1.0" stroke-linejoin="round" stroke-linecap="round" />
<polyline points="275.68,179.15 276.25,184.17 276.66,183.48 277.13,181.94 277.95,181.84 278.20,177.85 278.62,181.63 279.41,180.52 279.90,185.70 279.99,182.12 280.78,185.83 281.01,181.71 281.48,181.85 282.26,182.32 282.69,182.43 283.39,180.68 283.20,181.30 283.88,182.52 284.43,180.90 284.73,183.96 285.72,183.21 285.87,185.20 286.38,184.10 287.06,183.83 286.94,183.84 287.75,184.11 288.32,185.71 289.38,184.72 289.23,182.20 289.48,181.52 290.54,180.61 290.60,183.45 291.61,181.71 291.92,183.38 292.77,185.93 293.21,189.44 293.54,185.45 294.29,189.06 294.59,184.38 295.01,185.66 295.23,183.90 295.69,183.79 296.61,187.63 297.28,182.25 297.12,186.83 298.16,188.88 298.25,189.20 299.08,185.93 299.53,185.18 299.70,187.02 300.26,181.96 300.95,183.45 301.66,185.48 302.01,184.73 302.87,183.68 303.24,186.33 304.07,183.93 304.42,183.32 304.77,187.16 305.14,186.43 305.94,186.83 306.53,181.10 307.16,182.61 307.37,183.07 307.83,185.17 308.29,185.10 308.90,186.00 308.85,184.97 309.91,187.05 310.42,180.56 311.11,185.49 311.71,182.07 312.38,184.09 312.54,184.10 312.68,183.60 313.58,186.81 314.07,187.77 314.07,183.11 314.76,182.92 315.52,182.55 315.85,185.05 316.37,184.69 317.05,184.77 317.28,186.49 318.22,181.14 318.67,184.79 318.90,181.00 319.20,184.75 320.14,183.63 320.84,187.22 320.75,183.02 321.74,186.15 321.81,185.50 322.74,186.88 323.00,186.45 323.77,185.98 323.76,184.16 324.75,186.19 325.34,185.57 325.67,184.33 326.31,185.03 326.69,189.37 327.59,190.41 327.95,187.91 328.34,190.22 328.70,186.24 329.73,187.68 330.08,187.97 330.52,186.21 331.19,183.36 331.25,185.45 331.79,184.55 332.66,187.93 333.12,182.91 333.31,187.70 333.76,182.33 334.47,184.06 334.48,184.51 335.07,185.66 335.63,186.99 336.18,183.33 337.10,183.51 337.45,186.42 337.51,185.10 338.20,183.10 338.90,181.95 339.15,182.34 339.38,181.55 340.55,185.03 340.59,183.98 341.31,179.06 341.83,186.01 342.56,185.25 342.68,185.56 343.41,185.27 343.67,179.45 344.23,179.57 344.53,183.84 345.50,178.05 346.03,183.15 346.44,179.28 347.13,186.46 347.28,181.47 347.92,181.47 348.23,183.96 348.86,178.56 349.33,180.39 350.02,181.88" fill="none" stroke="#000" stroke-width="1.0" stroke-linejoin="round" stroke-linecap="round" />
<polyline points="349.70,181.30 350.20,181.14 350.69,180.97 351.19,180.81 351.68,180.65 352.18,180.48 352.67,180.32 353.17,180.15 353.66,179.99 354.16,179.83 354.65,179.66 355.15,179.50 355.65,179.34 356.14,179.17 356.64,179.01 357.13,178.85 357.63,178.68 358.12,178.52 358.62,178.35 359.11,178.19 359.61,178.03 360.10,177.86 360.60,177.70 361.08,177.49 361.56,177.29 362.04,177.08 362.52,176.88 363.00,176.67 363.48,176.47 363.96,176.26 364.44,176.06 364.92,175.85 365.40,175.65 365.88,175.44 366.36,175.24 366.84,175.03 367.32,174.83 367.80,174.62 368.28,174.42 368.76,174.22 369.24,174.01 369.72,173.81 370.20,173.60 370.66,173.37 371.12,173.14 371.58,172.90 372.04,172.67 372.50,172.44 372.95,172.21 373.41,171.98 373.87,171.75 374.33,171.51 374.79,171.28 375.25,171.05 375.71,170.82 376.17,170.59 376.63,170.35 377.09,170.12 377.55,169.89 378.00,169.66 378.46,169.43 378.92,169.20 379.38,168.96 379.84,168.73 380.30,168.50 380.74,168.26 381.19,168.01 381.63,167.77 382.07,167.53 382.52,167.28 382.96,167.04 383.40,166.80 383.85,166.55 384.29,166.31 384.73,166.07 385.18,165.82 385.62,165.58 386.07,165.33 386.51,165.09 386.95,164.85 387.40,164.60 387.84,164.36 388.28,164.12 388.73,163.87 389.17,163.63 389.61,163.39 390.06,163.14 390.50,162.90 390.98,162.73 391.46,162.57 391.94,162.40 392.42,162.23 392.90,162.07 393.39,161.90 393.87,161.73 394.35,161.57 394.83,161.40 395.31,161.23 395.79,161.07 396.27,160.90 396.75,160.73 397.23,160.57 397.71,160.40 398.20,160.23 398.68,160.07 399.16,159.90 399.64,159.73 400.12,159.57 400.60,159.40 401.06,159.17 401.53,158.94 401.99,158.70 402.45,158.47 402.92,158.24 403.38,158.01 403.85,157.78 404.31,157.55 404.77,157.31 405.24,157.08 405.70,156.85 406.16,156.62 406.63,156.39 407.09,156.15 407.55,155.92 408.02,155.69 408.48,155.46 408.95,155.23 409.41,155.00 409.87,154.76 410.34,154.53 410.80,154.30 411.21,153.96 411.61,153.62 412.02,153.28 412.43,152.94 412.83,152.60 413.24,152.26 413.65,151.92 414.05,151.58 414.46,151.24 414.87,150.90 415.27,150.56 415.68,150.22 416.09,149.88 416.49,149.54 416.90,149.20 417.40,149.03 417.90,148.87 418.40,148.70 418.90,148.53 419.40,148.37 419.90,148.20 420.40,148.03 420.90,147.87 421.40,147.70" fill="none" stroke="#000" stroke-width="5.0" stroke-linejoin="round" stroke-linecap="round" />
<polyline points="349.61,184.14 350.55,182.01 350.78,179.63 351.44,183.79 351.42,181.94 352.23,177.33 353.18,181.29 353.40,178.00 353.33,181.92 354.19,177.78 354.62,178.43 354.99,180.68 355.52,180.50 356.25,177.81 356.69,177.58 357.14,182.84 357.77,178.32 358.34,177.60 358.74,175.15 358.95,176.91 359.44,182.45 360.24,182.26 360.40,181.33 361.37,180.49 361.53,177.00 362.08,182.08 362.39,175.82 363.07,177.79 363.82,176.91 364.05,175.45 364.24,179.71 365.29,178.45 365.18,172.26 365.51,172.85 365.99,176.37 367.13,176.28 367.26,170.79 367.96,169.83 368.23,172.58 368.87,174.35 369.24,173.14 369.74,172.44 370.21,170.67 370.56,168.54 371.13,177.92 371.63,169.75 371.71,170.24 372.64,170.60 372.94,173.17 373.20,169.66 373.92,175.12 373.91,169.13 375.29,167.86 375.23,168.18 375.68,171.34 375.89,169.89 376.97,167.73 377.26,168.23 377.49,165.66 378.21,170.31 378.58,166.62 378.78,170.16 379.20,170.16 379.84,166.74 380.28,163.50 380.45,165.76 381.34,166.95 381.88,166.76 381.81,164.63 382.60,171.16 382.80,169.40 383.46,168.81 383.85,168.17 384.16,169.32 384.44,163.66 385.03,168.72 385.43,162.97 385.81,164.22 386.38,164.37 386.76,163.47 387.30,164.70 387.89,164.65 387.84,164.97 388.57,162.53 388.85,165.57 389.55,161.60 390.25,162.30 390.69,161.79 390.62,159.07 391.55,165.61 391.97,163.62 392.18,163.44 392.80,164.44 393.40,164.36 393.61,156.80 394.32,164.39 394.88,160.41 395.20,160.17 395.82,161.32 396.28,164.69 397.11,165.43 397.45,164.86 397.74,160.73 398.05,159.88 398.55,159.90 399.26,164.00 399.25,158.62 400.04,159.43 400.37,156.69 401.18,154.17 402.04,158.77 401.96,158.63 402.48,162.08 402.84,158.66 403.68,156.50 404.19,160.28 404.32,156.67 404.97,155.11 405.35,153.60 405.98,159.59 406.38,154.27 406.48,154.60 407.32,152.85 407.44,160.04 407.95,153.79 408.68,160.46 408.59,153.87 409.65,153.31 409.82,159.43 410.23,152.80 410.98,149.59 411.42,151.25 411.36,149.35 411.87,154.00 412.43,154.89 412.96,149.66 412.86,154.36 413.75,156.49 413.68,153.48 414.39,149.44 414.57,153.59 414.87,148.35 415.75,149.62 415.97,145.66 416.81,150.82 416.84,150.86 417.21,146.09 417.93,147.21 418.73,148.58 418.69,149.25 419.59,152.23 419.76,148.45 420.20,143.36 420.74,150.15 421.44,144.40" fill="none" stroke="#000" stroke-width="1.0" stroke-linejoin="round" stroke-linecap="round" />
<polyline points="349.82,181.91 350.48,182.78 350.89,178.87 351.33,178.34 351.73,181.09 352.17,182.90 352.85,183.10 353.05,180.49 353.56,178.11 354.15,179.32 354.78,184.66 354.98,181.42 355.58,177.56 355.93,179.65 356.52,183.04 356.66,181.54 357.68,178.66 358.24,179.00 358.65,179.05 358.97,173.46 359.73,173.03 360.07,178.63 360.48,175.65 361.43,182.11 361.82,177.14 361.65,173.12 362.35,175.67 363.04,175.28 363.35,181.47 364.02,176.39 364.63,175.97 364.67,180.29 365.35,176.05 365.57,176.34 365.90,170.85 366.88,176.35 366.85,175.01 367.65,173.69 368.10,170.89 368.87,175.96 369.34,173.95 369.73,172.30 370.31,173.70 370.63,173.19 370.99,172.80 371.68,177.90 372.49,173.75 372.18,175.95 373.12,173.95 373.68,176.69 373.64,173.67 374.39,169.34 374.59,172.54 375.17,170.09 375.78,170.97 375.92,169.87 376.95,173.46 377.29,169.86 377.68,171.00 377.85,170.86 378.67,170.86 379.32,166.95 379.75,173.96 379.99,173.70 380.18,167.65 380.77,166.22 381.32,167.93 382.09,162.77 382.07,172.53 382.61,168.97 382.92,167.72 383.24,166.49 383.84,167.00 384.12,167.11 384.74,166.16 384.97,167.33 385.82,166.63 385.99,166.83 386.46,163.86 387.26,166.67 387.27,164.21 387.88,165.30 388.14,161.85 388.86,163.62 388.97,160.65 389.37,164.63 390.13,163.42 390.30,162.62 390.91,162.58 391.29,163.41 391.61,165.13 392.43,161.79 392.78,164.47 393.27,163.26 394.21,163.58 394.44,160.56 395.02,159.08 395.32,164.26 395.87,158.23 396.49,163.77 396.39,162.77 397.52,158.87 397.94,157.33 398.35,164.94 398.61,162.87 399.14,156.84 399.63,159.24 400.09,161.31 400.68,159.88 401.43,159.15 401.54,160.04 401.87,158.19 402.48,161.83 402.81,155.54 403.29,157.67 403.61,160.49 404.34,158.78 404.78,154.37 405.34,156.85 405.76,155.72 405.95,152.45 406.84,158.35 406.97,156.12 407.14,158.63 408.15,153.69 408.28,157.09 409.24,150.51 409.23,155.38 410.05,154.90 410.56,149.53 410.38,156.15 410.85,155.89 411.69,156.47 411.90,158.28 412.64,152.95 412.69,151.00 413.23,151.33 413.74,149.21 414.07,152.94 414.39,155.49 414.76,154.17 414.89,152.45 415.64,150.72 415.96,148.64 416.35,148.67 416.78,144.20 417.30,147.66 417.87,146.22 418.35,150.66 419.17,147.30 419.58,150.81 419.83,151.09 420.62,147.71 420.88,146.48 421.47,148.64" fill="none" stroke="#000" stroke-width="1.0" stroke-linejoin="round" stroke-linecap="round" />
<path d="M225.90,253.90 C226.23,255.67 227.08,260.95 227.90,264.50 C228.72,268.05 229.83,271.80 230.80,275.20 C231.77,278.60 232.73,282.00 233.70,284.90 C234.67,287.80 235.63,290.35 236.60,292.60 C237.57,294.85 239.02,297.43 239.50,298.40" fill="none" stroke="#000" stroke-width="1.6" stroke-linejoin="round" stroke-linecap="round" />
<polyline points="239.50,298.32 240.22,299.45 240.95,299.85 241.68,300.87 242.40,301.72 243.38,301.40 244.36,301.22 245.34,300.45 246.32,300.21 247.30,300.21 248.57,300.71 249.83,301.18 251.10,300.53 251.93,301.68 252.76,302.02 253.59,302.74 254.41,303.56 255.24,304.54 256.07,305.08 256.90,306.05 257.90,305.40 258.90,305.97 259.90,305.98 260.86,305.14 261.82,304.68 262.78,303.79 263.74,303.05 264.70,302.68 265.66,302.13 266.62,302.71 267.58,301.21 268.54,301.38 269.50,300.46 270.48,300.29 271.46,300.22 272.44,299.57 273.42,299.87 274.40,299.51 275.21,299.55 276.02,300.78 276.84,301.37 277.65,301.94 278.46,302.88 279.27,302.88 280.09,303.75 280.90,304.42 281.76,304.47 282.61,305.65 283.47,305.40 284.32,305.99 285.18,307.08 286.03,307.14 286.89,307.98 287.74,308.06 288.60,309.12 289.56,309.25 290.53,310.18 291.49,310.10 292.45,311.18 293.41,311.46 294.38,312.04 295.34,312.49 296.30,313.04 297.23,313.15 298.16,313.32 299.09,314.64 300.01,314.89 300.94,315.58 301.87,316.39 302.80,316.20 303.78,317.06 304.76,317.59 305.73,317.95 306.71,318.85 307.69,319.20 308.67,319.49 309.64,319.93 310.62,320.95 311.60,321.00 312.55,321.71 313.50,322.01 314.45,321.64 315.40,322.22 316.35,322.89 317.30,323.33 318.25,323.80 319.20,324.14 320.30,324.58 321.40,324.52 322.50,324.94 323.60,325.60 324.70,325.61 325.80,326.42" fill="none" stroke="#000" stroke-width="2.7" stroke-linejoin="round" stroke-linecap="round" />
<line x1="326.1" y1="326.5" x2="326.3" y2="311" stroke="#222" stroke-width="1.3"/>
<polyline points="326.50,310.32 327.50,311.60 328.50,311.95 329.90,311.91 331.30,313.29 332.27,313.39 333.23,313.61 334.20,313.58 335.17,314.06 336.13,314.95 337.10,314.55 338.07,314.06 339.03,315.14 340.00,315.34 341.00,315.87 342.00,316.00 343.00,316.05 344.00,316.28 345.00,317.06 346.00,316.52 347.00,317.75 348.00,317.21 349.00,317.25 350.00,318.03 351.00,318.17 352.05,317.83 353.11,318.50 354.16,317.86 355.22,318.28 356.27,319.03 357.32,318.75 358.38,318.58 359.43,319.26 360.48,319.52 361.54,319.38 362.59,318.98 363.65,319.56 364.70,319.93 365.75,320.16 366.81,320.62 367.86,320.12 368.92,320.18 369.97,320.44 371.02,320.95 372.08,320.43 373.13,321.24 374.18,320.15 375.24,321.35 376.29,321.04 377.35,321.51 378.40,321.71 379.41,321.22 380.42,321.62 381.44,321.78 382.45,321.96 383.46,321.57 384.47,321.63 385.48,321.42 386.49,322.83 387.51,322.08 388.52,322.14 389.53,321.83 390.54,322.63 391.55,322.26 392.56,322.92 393.58,322.81 394.59,322.64 395.60,322.92 396.66,322.44 397.72,322.76 398.78,322.76 399.85,322.63 400.91,323.09 401.97,323.12 403.03,323.67 404.09,322.31 405.15,323.19 406.22,323.19 407.28,323.41 408.34,323.75 409.40,323.82 410.43,323.77 411.47,323.67 412.50,324.02 413.53,324.04 414.57,323.44 415.60,323.97 416.63,323.70 417.67,323.81 418.70,324.27 419.73,324.30 420.77,324.38 421.80,324.14" fill="none" stroke="#000" stroke-width="2.7" stroke-linejoin="round" stroke-linecap="round" />
<polyline points="225.80,352.83 227.20,352.88 228.60,353.63 230.00,354.04 231.33,354.68 232.67,354.78 234.00,354.32 235.43,354.04 236.87,353.47 238.30,353.51 239.50,354.33 240.70,354.13 241.90,353.35 243.10,353.92 244.30,354.15 245.53,354.54 246.76,354.11 247.99,353.98 249.21,354.25 250.44,353.10 251.67,352.85 252.90,353.59 254.13,353.02 255.36,352.63 256.59,352.19 257.81,352.37 259.04,352.04 260.27,352.92 261.50,352.92 262.79,353.52 264.07,353.40 265.36,353.48 266.65,353.74 267.94,354.94 269.23,353.93 270.51,354.89 271.80,355.11 273.01,355.79 274.22,355.90 275.43,356.68 276.64,357.27 277.85,357.40 279.06,357.76 280.27,358.32 281.48,358.52 282.69,359.26 283.90,359.69 285.19,360.19 286.47,360.89 287.76,361.20 289.05,360.89 290.34,361.57 291.62,361.78 292.91,362.25 294.20,362.31 295.49,362.72 296.77,362.79 298.06,363.00 299.35,363.91 300.64,364.38 301.93,364.48 303.21,364.73 304.50,364.99 305.70,365.00 306.90,364.80 308.10,365.91 309.30,366.01 310.50,366.01 311.70,366.12 312.90,367.17 314.10,366.35 315.30,367.86 316.50,367.72 317.76,368.50 319.01,367.59 320.27,368.01 321.53,368.01 322.79,368.41 324.04,368.46 325.30,368.44" fill="none" stroke="#222" stroke-width="1.15" stroke-linejoin="round" stroke-linecap="round" />
<polyline points="325.30,368.70 326.30,420.00 326.60,438.50" fill="none" stroke="#222" stroke-width="1.1" stroke-linejoin="round" stroke-linecap="round" />
<polyline points="326.60,438.50 327.60,436.00 328.40,428.00 329.20,421.00 330.20,414.00 331.90,408.50 334.00,407.00 336.10,406.30" fill="none" stroke="#222" stroke-width="1.15" stroke-linejoin="round" stroke-linecap="round" />
<polyline points="336.10,406.78 337.40,405.38 338.70,404.94 340.00,404.85 341.15,404.96 342.30,405.60 343.45,406.56 344.60,406.83 346.00,406.14 347.27,406.95 348.55,407.20 349.83,408.37 351.10,407.41 352.33,408.58 353.56,408.03 354.79,408.47 356.01,408.72 357.24,409.24 358.47,409.75 359.70,410.39 360.93,409.56 362.16,410.68 363.39,410.78 364.61,410.94 365.84,410.47 367.07,411.46 368.30,411.25 369.53,411.83 370.76,411.92 371.99,412.71 373.21,413.29 374.44,413.67 375.67,413.44 376.90,414.35 378.28,414.37 379.66,413.12 381.04,414.02 382.42,412.58 383.80,413.24 385.01,413.15 386.23,413.44 387.44,412.78 388.66,412.33 389.87,412.07 391.09,411.75 392.30,412.54 393.60,412.52 394.90,412.73 396.20,413.71 397.50,413.56 398.88,413.78 400.26,413.85 401.64,414.88 403.02,414.88 404.40,414.23 405.67,412.97 406.95,413.17 408.23,412.46 409.50,411.96 410.80,412.68 412.10,412.91 413.40,414.09 414.70,414.68 415.98,413.94 417.25,413.22 418.52,412.73 419.80,412.81" fill="none" stroke="#222" stroke-width="1.15" stroke-linejoin="round" stroke-linecap="round" />
<line x1="328" y1="423" x2="328" y2="431" stroke="#999" stroke-width="2.8"/>
<polyline points="225.90,446.00 229.70,446.90 232.00,454.40 234.80,461.90 240.00,460.00 245.60,458.10 248.40,454.40 250.30,455.30 252.60,470.30 255.90,470.30 259.70,469.40 265.30,470.80 269.00,470.30 273.70,474.00 277.00,477.80 281.20,473.10 285.60,469.40 290.30,471.20 295.90,474.50 302.50,474.50 303.90,481.60 304.80,492.80 307.20,496.10 312.80,498.40 315.60,498.90 317.50,493.70 321.20,499.40 325.90,505.00 326.90,507.80 329.70,504.00 332.50,501.70 335.00,503.80 338.50,507.10 344.80,500.30 353.30,500.30 363.10,497.50 374.40,498.20 385.60,500.30 398.30,502.40 406.70,504.30 413.80,502.40 419.40,501.70" fill="none" stroke="#888" stroke-width="1.1" stroke-linejoin="round" stroke-linecap="round" />
<polyline points="225.90,436.87 226.83,438.38 227.77,439.71 228.70,441.03 230.15,442.92 231.60,444.50 233.45,445.00 235.30,445.60 236.87,446.39 238.43,447.63 240.00,448.73 241.40,449.40 242.80,449.77 244.20,450.59 245.60,451.13 247.25,451.84 248.90,452.39 250.55,452.89 252.20,453.66 253.60,454.00 255.00,454.55 256.40,455.16 257.80,455.69 259.37,456.90 260.93,457.77 262.50,459.09 264.07,460.38 265.63,461.69 267.20,462.76 268.77,463.90 270.33,464.59 271.90,465.58 273.30,466.32 274.70,467.41 276.10,468.36 277.50,469.58 280.00,470.86 281.40,471.37 282.80,472.26 284.20,472.96 285.60,473.57 287.17,474.54 288.73,475.43 290.30,476.34 291.57,477.46 292.83,478.92 294.10,480.35 295.95,480.37 297.80,480.17 299.45,480.56 301.10,481.08 302.75,481.66 304.40,482.04 305.90,482.21 307.40,482.60 308.90,482.82 310.40,483.18 311.90,483.35 313.58,483.61 315.26,484.17 316.94,484.63 318.62,484.79 320.30,485.29 321.95,485.75 323.60,485.96 325.25,486.27 326.90,486.94 328.52,486.76 330.14,486.74 331.76,486.47 333.38,486.73 335.00,486.31 336.57,486.73 338.13,487.16 339.70,487.52 341.27,487.55 342.83,487.87 344.40,488.26 345.97,488.30 347.53,488.89 349.10,489.17 350.66,489.44 352.21,489.94 353.77,490.36 355.32,490.69 356.88,491.11 358.43,491.61 359.99,491.77 361.54,492.23 363.10,492.54 364.67,493.11 366.23,493.33 367.80,493.82 369.37,494.17 370.93,494.55 372.50,495.13 374.07,495.31 375.63,495.88 377.20,496.20 378.77,496.33 380.33,496.24 381.90,496.44 383.47,496.50 385.03,496.42 386.60,496.60 388.17,496.63 389.73,496.72 391.30,496.95 392.86,496.87 394.41,496.92 395.97,497.06 397.52,497.37 399.08,497.50 400.63,497.73 402.19,497.95 403.74,498.25 405.30,498.24 406.87,498.45 408.43,498.51 410.00,498.87 411.57,499.16 413.13,499.36 414.70,499.17 416.27,499.70 417.83,499.98 419.40,500.10" fill="none" stroke="#000" stroke-width="1.9" stroke-linejoin="round" stroke-linecap="round" />
<line x1="368.1" y1="444.4" x2="378.4" y2="444.4" stroke="#888" stroke-width="1.2"/>
<line x1="368.1" y1="460.6" x2="377.2" y2="460.6" stroke="#222" stroke-width="1.3"/>
<text x="378.8" y="447.4" font-family="Liberation Sans" font-size="8.2" font-weight="bold" text-anchor="start" fill="#111" >DO</text>
<polyline points="224.60,541.30 232.30,547.30 237.50,549.00 243.50,548.00 248.20,545.00 253.80,555.80 256.40,555.30 265.00,556.40 271.80,558.60 277.00,560.20 286.90,554.80 302.20,558.60 304.90,570.10 308.80,571.20 316.40,571.20 318.60,569.50 323.00,571.70 335.00,573.50 347.00,573.80 357.50,572.70 367.30,571.30 380.00,572.70 394.00,574.10 408.10,575.80 419.40,575.20" fill="none" stroke="#8a8a8a" stroke-width="1.2" stroke-linejoin="round" stroke-linecap="round" />
<polyline points="225.00,539.50 225.25,539.94 225.50,540.38 225.75,540.81 226.00,541.25 226.25,541.69 226.50,542.12 226.75,542.56 227.00,543.00 227.25,543.38 227.50,543.75 227.75,544.12 228.00,544.50 228.25,544.88 228.50,545.25 228.75,545.62 229.00,546.00 229.50,545.75 230.00,545.50 230.50,545.25 231.00,545.00 231.50,545.25 232.00,545.50 232.50,545.75 233.00,546.00 233.22,545.56 233.44,545.11 233.67,544.67 233.89,544.22 234.11,543.78 234.33,543.33 234.56,542.89 234.78,542.44 235.00,542.00 235.11,541.55 235.22,541.09 235.33,540.64 235.44,540.18 235.55,539.73 235.65,539.27 235.76,538.82 235.87,538.36 235.98,537.91 236.09,537.45 236.20,537.00 236.30,537.46 236.40,537.92 236.50,538.38 236.60,538.85 236.70,539.31 236.80,539.77 236.90,540.23 237.00,540.69 237.10,541.15 237.20,541.62 237.30,542.08 237.40,542.54 237.50,543.00 237.61,543.47 237.73,543.94 237.84,544.41 237.96,544.89 238.07,545.36 238.19,545.83 238.30,546.30" fill="none" stroke="#000" stroke-width="3.2" stroke-linejoin="round" stroke-linecap="round" />
<polyline points="224.94,536.62 225.33,541.07 225.33,538.81 225.49,542.67 226.00,544.01 225.99,542.27 226.63,540.98 227.15,539.73 226.76,540.30 227.34,543.46 227.43,545.16 227.70,543.73 227.50,543.39 228.30,546.72 228.38,545.55 228.75,546.11 229.21,545.85 229.55,542.44 229.94,543.45 230.29,548.13 230.89,544.81 231.31,547.07 232.10,542.27 232.44,545.07 232.83,548.08 233.25,544.84 233.35,545.91 234.10,546.65 234.25,543.44 234.38,539.78 234.36,542.67 234.43,542.24 234.70,539.99 235.22,544.49 235.01,540.88 234.99,539.74 235.45,544.10 235.34,540.41 235.80,537.76 235.47,540.77 235.55,540.72 235.69,539.60 236.08,537.11 236.29,538.28 236.50,535.39 236.30,540.04 236.25,538.82 236.25,538.09 236.64,539.02 236.88,541.89 236.73,541.33 236.83,539.80 236.63,541.12 236.80,542.63 237.20,540.63 237.62,541.09 237.70,542.35 237.40,545.25 237.86,544.24 237.75,543.30 237.85,543.34 237.97,544.21 238.34,547.28 238.22,546.08 238.24,547.94" fill="none" stroke="#000" stroke-width="1.0" stroke-linejoin="round" stroke-linecap="round" />
<polyline points="225.21,537.47 225.43,538.14 225.85,538.52 225.91,538.81 225.82,544.13 226.09,544.54 226.64,538.74 226.71,543.91 226.99,539.00 227.18,542.79 227.16,543.19 228.10,543.04 227.93,547.47 228.33,543.51 228.64,547.29 228.78,543.38 229.28,546.27 229.60,548.05 229.92,547.84 230.42,548.20 231.18,545.76 231.37,543.50 232.03,542.12 232.44,545.64 232.59,546.96 233.24,545.51 233.60,544.60 233.58,548.03 233.77,542.42 234.22,543.96 234.53,541.68 234.71,540.92 234.87,543.26 234.95,546.00 235.20,541.23 234.96,542.75 235.18,541.16 235.70,541.39 235.52,539.83 235.09,539.62 235.87,540.30 235.80,538.68 235.95,536.51 236.07,539.78 235.71,539.59 236.35,536.58 236.08,537.90 236.74,537.11 236.41,536.37 236.59,537.20 236.91,541.00 237.18,536.33 236.89,539.55 237.08,544.36 237.08,539.24 237.11,540.68 237.57,541.90 237.23,543.67 237.42,547.47 237.73,544.17 237.78,545.88 238.36,545.76 237.86,545.54 238.03,546.46 238.34,545.59" fill="none" stroke="#000" stroke-width="1.0" stroke-linejoin="round" stroke-linecap="round" />
<polyline points="224.95,540.15 225.21,541.57 225.67,537.87 225.98,540.11 226.11,539.99 225.73,542.29 226.29,539.26 226.39,545.26 227.21,544.75 227.38,544.33 227.50,542.80 227.83,544.56 227.96,545.86 228.14,543.53 228.18,546.04 228.67,543.22 228.95,544.94 229.43,541.75 230.15,545.02 230.44,541.45 231.09,545.91 231.70,547.55 232.12,543.48 232.35,545.11 232.88,548.95 233.14,543.91 233.64,543.47 233.94,545.40 233.77,545.01 233.99,545.79 234.30,542.44 234.79,542.96 234.85,541.28 234.76,541.95 235.07,539.44 235.28,541.87 235.34,541.56 235.52,539.32 235.29,537.80 235.38,538.63 235.62,537.83 235.86,537.30 235.90,536.37 236.12,534.16 236.28,535.30 236.15,533.46 235.93,538.39 236.52,537.69 236.31,539.04 236.73,539.75 236.94,537.89 236.90,540.14 237.11,539.82 237.32,541.34 237.08,542.49 237.48,541.65 237.47,541.83 237.47,544.01 237.64,539.47 237.75,544.36 238.08,542.95 237.84,544.63 238.14,543.97 237.99,543.72 238.55,550.17" fill="none" stroke="#000" stroke-width="1.0" stroke-linejoin="round" stroke-linecap="round" />
<polyline points="238.30,546.30 238.61,546.73 238.91,547.16 239.22,547.59 239.53,548.01 239.84,548.44 240.14,548.87 240.45,549.30 240.76,549.73 241.06,550.16 241.37,550.59 241.68,551.01 241.99,551.44 242.29,551.87 242.60,552.30 242.83,552.76 243.05,553.22 243.28,553.67 243.51,554.13 243.73,554.59 243.96,555.05 244.18,555.51 244.41,555.96 244.64,556.42 244.86,556.88 245.09,557.34 245.32,557.79 245.54,558.25 245.77,558.71 245.99,559.17 246.22,559.63 246.45,560.08 246.67,560.54 246.90,561.00 247.25,561.40 247.59,561.80 247.94,562.20 248.29,562.60 248.63,563.00 248.98,563.40 249.33,563.80 249.67,564.20 250.02,564.60 250.37,565.00 250.71,565.40 251.06,565.80 251.41,566.20 251.75,566.60 252.10,567.00 252.53,567.28 252.95,567.57 253.38,567.85 253.80,568.13 254.22,568.42 254.65,568.70 255.07,568.98 255.50,569.27 255.92,569.55 256.35,569.83 256.77,570.12 257.20,570.40 257.52,570.79 257.84,571.18 258.15,571.57 258.47,571.96 258.79,572.35 259.11,572.75 259.43,573.14 259.75,573.53 260.06,573.92 260.38,574.31 260.70,574.70 261.09,575.05 261.48,575.41 261.87,575.76 262.26,576.12 262.65,576.47 263.05,576.83 263.44,577.18 263.83,577.54 264.22,577.89 264.61,578.25 265.00,578.60" fill="none" stroke="#000" stroke-width="3.4" stroke-linejoin="round" stroke-linecap="round" />
<polyline points="238.56,547.83 238.28,547.59 239.15,548.89 238.84,548.30 239.79,549.82 239.86,547.73 240.13,550.00 240.47,550.90 240.77,550.73 240.87,548.01 241.43,553.59 241.90,552.92 242.09,553.93 242.30,551.01 242.56,549.51 242.41,554.08 243.21,553.50 243.10,555.60 243.14,553.18 243.84,553.11 243.74,558.05 244.27,557.51 244.84,555.24 244.62,553.42 245.28,557.20 245.53,559.96 245.51,557.99 245.64,560.24 245.73,559.24 245.76,558.57 246.13,562.47 246.50,557.08 246.71,560.49 246.88,563.65 247.10,561.01 247.51,561.77 248.55,562.50 248.12,563.17 248.80,565.82 249.12,564.59 249.46,565.00 249.87,566.26 249.92,566.57 250.22,565.00 250.88,566.80 251.17,565.12 251.65,569.20 251.74,564.97 252.09,567.93 252.75,567.85 252.74,568.05 253.36,568.89 253.69,568.30 253.98,566.40 254.44,568.18 255.30,565.98 255.36,567.57 255.46,570.33 256.20,571.79 256.68,571.08 257.22,570.85 257.16,570.79 257.83,569.03 258.05,573.63 258.50,572.74 258.98,573.06 259.16,570.56 259.37,572.88 259.59,572.28 259.85,572.41 260.71,577.31 260.84,574.71 260.55,573.63 261.51,572.75 261.86,577.87 262.22,574.66 262.38,575.01 262.97,576.49 263.26,576.00 263.87,576.18 264.18,579.93 264.29,581.25 264.77,579.00" fill="none" stroke="#000" stroke-width="0.9" stroke-linejoin="round" stroke-linecap="round" />
<polyline points="238.32,546.06 238.83,547.55 238.67,546.35 239.28,547.31 239.70,546.99 239.56,550.90 240.34,549.40 240.49,546.49 240.48,549.40 241.11,552.08 241.46,549.89 241.83,551.95 242.07,552.29 242.21,550.15 242.06,552.49 242.75,555.76 242.70,551.67 243.29,554.04 243.42,553.28 243.59,553.29 243.83,554.90 244.16,556.50 244.49,556.16 244.75,558.28 244.83,557.21 245.02,556.16 245.36,558.79 245.28,557.69 245.83,556.47 246.07,560.67 246.18,557.62 246.27,560.41 246.63,561.05 246.66,559.78 247.32,562.59 247.40,560.50 248.06,563.50 248.60,562.15 248.43,562.58 248.94,565.00 249.33,564.30 249.44,562.74 250.29,564.32 250.63,563.53 250.50,565.72 251.17,566.19 250.99,564.89 251.54,567.12 251.73,567.64 252.37,567.08 252.90,565.40 253.27,568.10 253.84,566.41 254.33,565.86 254.98,569.42 255.14,570.27 255.51,569.65 256.21,567.62 256.29,570.60 257.06,568.45 256.97,571.18 257.89,571.77 257.91,571.15 258.03,570.97 259.07,573.53 258.77,572.52 259.05,573.90 259.59,574.20 259.54,572.05 260.23,573.81 260.62,574.71 260.80,572.70 261.11,574.15 261.29,575.88 261.65,575.43 262.10,576.51 262.70,575.75 263.27,575.88 263.60,576.25 263.63,577.95 264.06,577.57 264.56,577.72 264.92,581.25" fill="none" stroke="#000" stroke-width="0.9" stroke-linejoin="round" stroke-linecap="round" />
<polyline points="265.00,578.60 265.47,578.77 265.94,578.94 266.41,579.11 266.89,579.29 267.36,579.46 267.83,579.63 268.30,579.80 268.77,579.97 269.24,580.14 269.71,580.31 270.19,580.49 270.66,580.66 271.13,580.83 271.60,581.00 272.09,580.84 272.58,580.67 273.07,580.50 273.56,580.34 274.05,580.17 274.54,580.01 275.03,579.85 275.52,579.68 276.01,579.51 276.50,579.35 276.99,579.19 277.48,579.02 277.97,578.86 278.46,578.69 278.95,578.53 279.44,578.36 279.93,578.20 280.42,578.03 280.91,577.87 281.40,577.70 281.90,577.60 282.40,577.51 282.90,577.41 283.40,577.32 283.90,577.22 284.40,577.13 284.90,577.03 285.40,576.94 285.90,576.84 286.40,576.75 286.90,576.65 287.40,576.55 287.90,576.46 288.40,576.36 288.90,576.27 289.40,576.17 289.90,576.08 290.40,575.98 290.90,575.89 291.40,575.79 291.90,575.70 292.40,575.60 292.92,575.57 293.44,575.54 293.96,575.51 294.48,575.49 295.00,575.46 295.51,575.43 296.03,575.40 296.55,575.37 297.07,575.34 297.59,575.31 298.11,575.29 298.63,575.26 299.15,575.23 299.67,575.20 300.19,575.17 300.70,575.14 301.22,575.11 301.74,575.09 302.26,575.06 302.78,575.03 303.30,575.00 303.82,575.00 304.34,575.00 304.86,575.00 305.38,575.00 305.90,575.00 306.41,575.00 306.93,575.00 307.45,575.00 307.97,575.00 308.49,575.00 309.01,575.00 309.53,575.00 310.05,575.00 310.57,575.00 311.09,575.00 311.60,575.00 312.12,575.00 312.64,575.00 313.16,575.00 313.68,575.00 314.20,575.00 314.70,574.93 315.21,574.87 315.71,574.80 316.22,574.73 316.72,574.67 317.23,574.60 317.73,574.53 318.23,574.47 318.74,574.40 319.24,574.33 319.75,574.27 320.25,574.20 320.75,574.13 321.26,574.07 321.76,574.00 322.27,573.93 322.77,573.87 323.27,573.80 323.78,573.73 324.28,573.67 324.79,573.60 325.29,573.53 325.80,573.47 326.30,573.40 326.81,573.48 327.32,573.56 327.84,573.65 328.35,573.73 328.86,573.81 329.37,573.89 329.88,573.98 330.39,574.06 330.91,574.14 331.42,574.22 331.93,574.31 332.44,574.39 332.95,574.47 333.46,574.55 333.98,574.64 334.49,574.72 335.00,574.80 335.51,574.90 336.03,574.99 336.54,575.09 337.05,575.18 337.57,575.28 338.08,575.37 338.60,575.47 339.11,575.56 339.62,575.66 340.14,575.75 340.65,575.85 341.16,575.95 341.68,576.04 342.19,576.14 342.70,576.23 343.22,576.33 343.73,576.42 344.25,576.52 344.76,576.61 345.27,576.71 345.79,576.80 346.30,576.90 346.81,576.96 347.32,577.03 347.83,577.09 348.34,577.15 348.85,577.22 349.35,577.28 349.86,577.35 350.37,577.41 350.88,577.47 351.39,577.54 351.90,577.60 352.41,577.66 352.92,577.73 353.43,577.79 353.94,577.85 354.45,577.92 354.95,577.98 355.46,578.05 355.97,578.11 356.48,578.17 356.99,578.24 357.50,578.30 357.99,578.42 358.48,578.54 358.97,578.67 359.47,578.79 359.96,578.91 360.45,579.03 360.94,579.15 361.43,579.27 361.92,579.40 362.41,579.52 362.90,579.64 363.40,579.76 363.89,579.88 364.38,580.00 364.87,580.13 365.36,580.25 365.85,580.37 366.34,580.49 366.83,580.61 367.33,580.73 367.82,580.86 368.31,580.98 368.80,581.10 369.29,581.25 369.77,581.40 370.26,581.56 370.75,581.71 371.23,581.86 371.72,582.01 372.21,582.17 372.70,582.32 373.18,582.47 373.67,582.62 374.16,582.77 374.64,582.93 375.13,583.08 375.62,583.23 376.10,583.38 376.59,583.53 377.08,583.69 377.57,583.84 378.05,583.99 378.54,584.14 379.03,584.30 379.51,584.45 380.00,584.60 380.49,584.75 380.98,584.90 381.47,585.06 381.97,585.21 382.46,585.36 382.95,585.51 383.44,585.67 383.93,585.82 384.42,585.97 384.91,586.12 385.40,586.27 385.90,586.43 386.39,586.58 386.88,586.73 387.37,586.88 387.86,587.03 388.35,587.19 388.84,587.34 389.33,587.49 389.83,587.64 390.32,587.80 390.81,587.95 391.30,588.10 391.81,588.20 392.32,588.29 392.83,588.39 393.34,588.48 393.85,588.58 394.35,588.67 394.86,588.77 395.37,588.86 395.88,588.96 396.39,589.05 396.90,589.15 397.41,589.25 397.92,589.34 398.43,589.44 398.94,589.53 399.45,589.63 399.95,589.72 400.46,589.82 400.97,589.91 401.48,590.01 401.99,590.10 402.50,590.20 402.97,590.40 403.44,590.60 403.92,590.80 404.39,591.00 404.86,591.20 405.33,591.40 405.81,591.60 406.28,591.80 406.75,592.00 407.22,592.20 407.69,592.40 408.17,592.60 408.64,592.80 409.11,593.00 409.58,593.20 410.06,593.40 410.53,593.60 411.00,593.80 411.50,593.95 412.00,594.10 412.50,594.25 413.00,594.40 413.50,594.55 414.00,594.70 414.50,594.85 415.00,595.00 415.50,595.15 416.00,595.30 416.50,595.45 417.00,595.60 417.50,595.75 418.00,595.90 418.42,596.18 418.84,596.46 419.26,596.74 419.68,597.02 420.10,597.30" fill="none" stroke="#000" stroke-width="3.8" stroke-linejoin="round" stroke-linecap="round" />
<polyline points="265.09,581.64 265.02,576.24 265.56,580.26 266.61,580.51 266.85,580.04 267.41,578.97 267.72,579.04 268.53,579.08 268.84,578.77 269.10,577.91 269.68,577.65 270.24,581.81 270.78,579.70 271.20,580.16 271.70,581.53 271.84,576.84 272.56,582.17 273.02,584.50 273.85,579.27 274.42,581.25 274.50,581.00 274.88,581.25 275.41,578.82 276.16,579.09 276.56,578.42 277.16,578.22 277.44,575.02 277.76,579.18 278.50,580.65 279.14,581.00 279.41,579.60 279.89,576.09 280.47,577.14 281.50,576.97 281.63,574.61 281.85,576.70 282.40,579.30 282.98,575.07 283.00,576.94 283.70,577.61 284.49,575.69 284.84,577.61 285.48,580.94 285.95,575.66 285.97,576.51 286.63,573.61 287.36,580.54 287.79,575.93 288.41,578.26 289.05,579.56 289.38,579.35 289.82,576.80 290.07,575.66 290.72,574.76 291.63,574.53 292.14,576.20 292.58,577.26 292.80,577.51 293.38,577.09 294.19,574.49 294.29,579.49 295.16,578.81 295.57,573.79 296.11,576.12 296.30,574.68 297.24,575.40 297.72,576.83 297.92,577.41 298.69,575.18 299.18,577.15 299.69,576.20 299.76,579.17 301.18,575.10 300.87,575.57 301.47,575.34 302.31,573.75 302.87,578.33 303.50,576.29 303.65,575.39 304.40,574.81 304.73,574.47 305.09,574.31 305.88,573.03 306.42,574.31 306.99,577.70 307.23,574.94 308.04,572.92 308.57,573.32 309.04,572.93 309.72,574.86 309.98,574.24 310.58,575.47 311.04,578.25 311.54,573.97 312.17,575.91 312.38,576.33 313.52,579.00 313.45,574.94 314.28,575.30 314.71,570.93 315.30,572.02 315.91,577.46 316.48,571.83 316.65,576.41 317.52,575.57 317.73,573.90 318.46,573.39 319.01,570.40 319.42,572.47 319.57,571.14 320.41,573.05 320.87,571.01 321.50,572.84 321.86,573.40 322.61,573.60 322.77,573.17 323.29,577.62 323.64,575.05 323.85,574.05 324.66,573.80 325.02,570.64 325.88,575.66 326.65,570.48 326.74,572.14 327.10,574.04 327.69,570.53 328.53,576.00 329.09,570.77 329.47,573.96 329.96,574.08 330.22,572.13 330.83,572.79 331.18,575.42 331.81,577.37 332.58,573.26 332.89,575.31 333.27,572.49 334.20,571.56 334.85,576.80 335.06,575.76 335.70,576.35 336.10,574.49 336.21,579.09 336.87,572.48 337.80,576.73 338.21,574.72 338.65,575.38 339.10,574.52 339.84,575.65 339.79,579.75 340.65,576.88 341.37,577.81 341.83,577.54 341.86,574.31 342.94,579.45 343.47,574.49 343.26,577.71 344.06,578.25 344.63,578.86 344.98,575.28 345.98,576.39 345.94,575.61 347.16,580.96 347.21,578.36 347.51,574.76 348.59,578.23 348.85,575.18 349.31,576.75 350.27,578.31 350.54,576.18 350.83,579.57 351.13,577.25 351.80,579.68 352.42,576.40 352.72,576.07 353.71,577.22 354.04,577.46 354.07,575.09 354.88,581.49 355.44,575.08 355.64,579.28 356.53,576.47 357.14,576.46 357.59,580.16 357.98,577.59 358.46,577.32 358.92,579.28 359.97,580.66 360.02,577.85 360.57,580.62 360.85,578.69 361.55,581.21 361.77,580.37 362.57,580.74 363.03,579.28 363.03,583.76 363.66,581.05 364.33,577.37 364.88,581.18 365.08,578.00 365.85,579.29 366.05,578.89 366.67,584.01 367.22,580.43 367.83,579.72 368.43,580.40 368.51,578.81 369.27,585.02 370.00,582.89 370.27,582.63 370.44,578.70 371.37,583.75 371.40,583.12 372.00,578.17 372.73,580.03 373.49,580.49 373.56,581.42 374.22,584.45 374.80,581.18 374.89,586.80 375.41,582.75 376.23,579.62 376.78,584.89 376.69,584.52 377.44,583.79 377.84,581.71 378.48,585.63 379.12,588.11 379.69,580.74 380.01,587.03 380.83,582.40 380.97,582.35 381.23,581.35 382.18,581.90 382.38,587.65 382.94,582.87 383.14,586.40 383.91,583.56 384.44,587.34 384.67,587.00 385.47,582.27 385.87,584.64 386.48,585.84 387.16,585.22 387.47,586.94 388.06,588.26 388.01,587.98 389.21,586.11 389.44,588.41 389.70,588.56 390.19,586.47 390.88,590.21 391.40,591.58 391.90,591.89 392.66,585.98 393.06,589.05 393.27,588.90 393.63,588.91 394.18,586.33 394.60,587.74 395.43,588.66 396.24,592.94 396.56,588.96 396.98,588.72 397.30,589.18 397.63,589.49 398.37,590.30 398.87,587.40 399.31,590.72 400.07,590.66 400.25,592.88 401.07,589.70 401.53,592.96 401.70,591.59 402.83,589.05 403.40,589.84 403.39,589.17 404.04,587.66 404.79,591.52 404.81,591.53 405.32,588.62 405.95,593.47 406.45,594.22 406.87,591.91 406.96,592.54 407.77,595.78 408.24,590.52 408.84,593.37 408.51,595.85 409.89,594.30 409.69,591.53 410.59,594.15 410.78,594.49 411.54,593.03 412.43,595.57 412.38,594.83 413.21,590.40 413.48,594.29 414.15,592.74 414.52,591.30 415.06,595.24 415.48,597.74 416.17,595.49 416.44,592.38 417.19,595.73 417.66,594.16 417.70,596.66 418.14,593.24 418.88,596.74 419.42,598.18 419.89,595.92 420.19,598.93" fill="none" stroke="#000" stroke-width="1.0" stroke-linejoin="round" stroke-linecap="round" />
<polyline points="264.74,579.55 265.27,579.49 265.87,576.57 266.40,579.39 266.69,578.63 267.21,579.83 267.85,576.83 268.22,582.69 269.05,577.86 269.18,583.55 269.76,579.89 270.21,584.49 270.75,582.64 270.91,577.21 271.69,578.55 272.45,581.05 272.64,580.13 273.10,580.65 273.62,584.34 274.31,583.11 274.68,578.80 275.05,579.09 275.52,580.00 276.32,578.58 276.64,578.82 277.11,582.53 277.76,581.07 278.31,581.02 278.85,575.84 278.60,578.58 279.16,577.08 279.63,578.15 280.48,576.02 280.75,578.18 281.38,577.23 281.90,577.75 282.58,577.07 282.80,574.21 283.32,577.58 283.81,576.12 284.65,577.54 284.85,576.66 285.35,577.65 285.95,572.98 286.29,575.99 286.91,577.91 286.96,575.43 287.90,573.02 288.49,576.13 288.80,576.71 289.18,573.64 289.67,575.80 290.13,577.49 290.86,572.31 291.73,572.24 291.89,573.71 292.24,575.11 292.55,572.04 293.64,577.27 293.66,579.51 294.47,576.61 294.89,577.15 295.69,576.87 296.32,576.61 296.86,575.02 297.40,573.94 297.59,571.31 298.11,573.68 298.77,577.32 299.49,575.42 299.50,572.25 300.25,578.19 300.77,571.14 301.52,572.75 301.63,577.37 302.10,577.64 302.90,576.87 303.02,574.75 303.36,574.44 303.97,573.87 304.66,577.43 305.49,571.00 305.79,575.74 306.57,579.00 306.80,575.13 307.55,571.00 307.85,576.92 308.48,572.17 309.01,571.66 309.83,576.54 310.09,575.53 310.85,576.50 310.84,574.36 311.35,573.42 312.10,573.22 312.67,575.69 313.09,575.14 313.86,575.85 314.50,576.52 314.65,574.35 315.25,578.26 315.65,575.63 316.14,576.67 316.71,572.65 317.39,573.72 317.75,573.78 318.30,574.03 318.96,573.14 319.16,571.49 319.88,572.85 320.35,574.28 320.61,573.47 321.19,571.83 321.82,572.93 322.46,574.64 322.62,573.65 323.29,571.68 324.17,574.46 324.63,574.03 324.58,577.35 325.52,575.95 325.79,576.16 326.20,575.31 326.82,573.34 327.28,577.13 327.85,575.56 328.40,572.31 328.72,575.13 329.23,575.16 329.93,572.22 330.20,573.59 330.91,570.88 331.33,574.71 331.62,574.68 332.52,575.17 332.83,575.03 333.49,574.71 334.03,576.77 334.34,575.23 335.23,576.52 335.64,573.91 336.02,575.61 336.89,572.52 337.12,571.45 337.80,574.53 338.09,574.53 338.69,576.69 339.25,574.53 339.82,576.44 340.13,574.73 340.48,575.07 341.25,576.45 341.61,578.88 342.42,576.91 342.72,576.00 343.08,576.59 343.95,574.45 344.23,576.86 344.78,574.14 345.04,579.05 346.01,575.03 346.61,579.75 346.93,575.86 347.42,575.53 347.87,576.36 348.40,579.83 348.86,576.74 349.25,577.81 349.98,577.76 349.96,580.51 350.64,575.11 351.88,579.28 351.92,577.99 351.92,579.93 352.30,577.37 353.33,578.10 354.00,576.89 354.67,576.76 355.03,577.98 355.37,582.05 355.81,579.95 356.67,580.65 357.19,578.51 357.77,581.49 357.98,578.42 358.19,580.74 359.07,577.47 359.83,579.92 360.02,582.40 360.19,579.91 360.99,578.79 361.44,578.83 361.73,580.60 362.06,578.39 362.70,581.91 363.55,576.39 364.08,579.46 364.80,579.27 364.90,581.54 365.32,580.48 366.25,581.97 366.13,579.66 367.05,581.79 367.19,577.78 367.93,578.89 368.16,581.98 368.93,578.87 369.41,577.25 370.15,581.10 370.15,583.52 370.69,581.17 371.25,580.42 371.42,583.92 372.50,581.72 372.54,583.78 373.01,580.88 373.90,579.46 374.02,582.91 374.57,580.10 375.47,582.07 375.64,582.33 376.24,585.49 376.16,583.18 377.20,586.45 377.55,582.98 377.88,582.11 378.64,581.22 379.06,585.32 379.62,585.98 379.83,584.84 380.72,585.91 381.23,586.15 381.28,584.13 381.85,587.67 382.42,585.84 382.89,585.56 383.09,584.61 383.97,589.56 384.24,582.19 384.77,583.91 385.52,582.27 385.85,589.64 386.50,588.04 387.12,584.29 387.26,583.58 388.11,586.33 388.33,587.42 388.86,585.76 389.48,587.57 389.97,590.38 390.29,587.83 390.85,591.09 391.65,588.07 391.92,591.27 392.19,588.08 392.74,590.48 393.18,590.36 393.92,588.78 394.40,588.96 394.64,589.51 395.34,586.69 395.86,592.49 396.26,587.24 397.13,589.22 397.52,588.14 397.85,589.71 398.40,587.59 399.04,588.12 399.67,586.18 400.07,591.21 400.58,592.74 400.98,586.58 401.35,590.89 402.08,587.90 402.42,591.20 402.87,589.93 403.43,589.49 403.60,592.90 404.70,590.34 404.89,591.82 405.14,593.03 405.48,589.24 406.33,588.96 406.67,593.66 407.30,590.87 407.74,593.60 408.06,588.89 408.69,588.80 408.98,591.34 409.84,596.13 410.11,594.34 410.41,593.94 411.37,593.70 411.37,592.24 412.17,594.42 412.31,595.87 412.95,594.15 413.52,592.15 414.18,593.76 414.35,595.69 414.93,595.16 415.41,593.91 415.92,597.37 416.35,592.12 417.42,597.17 417.43,593.70 417.73,595.26 418.41,596.96 419.28,597.00 419.41,596.22 419.56,598.64 420.40,596.15" fill="none" stroke="#000" stroke-width="1.0" stroke-linejoin="round" stroke-linecap="round" />
<line x1="354.4" y1="541.5" x2="370.8" y2="541.5" stroke="#999" stroke-width="1.4"/>
<line x1="354.4" y1="555.8" x2="371.9" y2="555.8" stroke="#333" stroke-width="1.5"/>
</svg></body></html>
